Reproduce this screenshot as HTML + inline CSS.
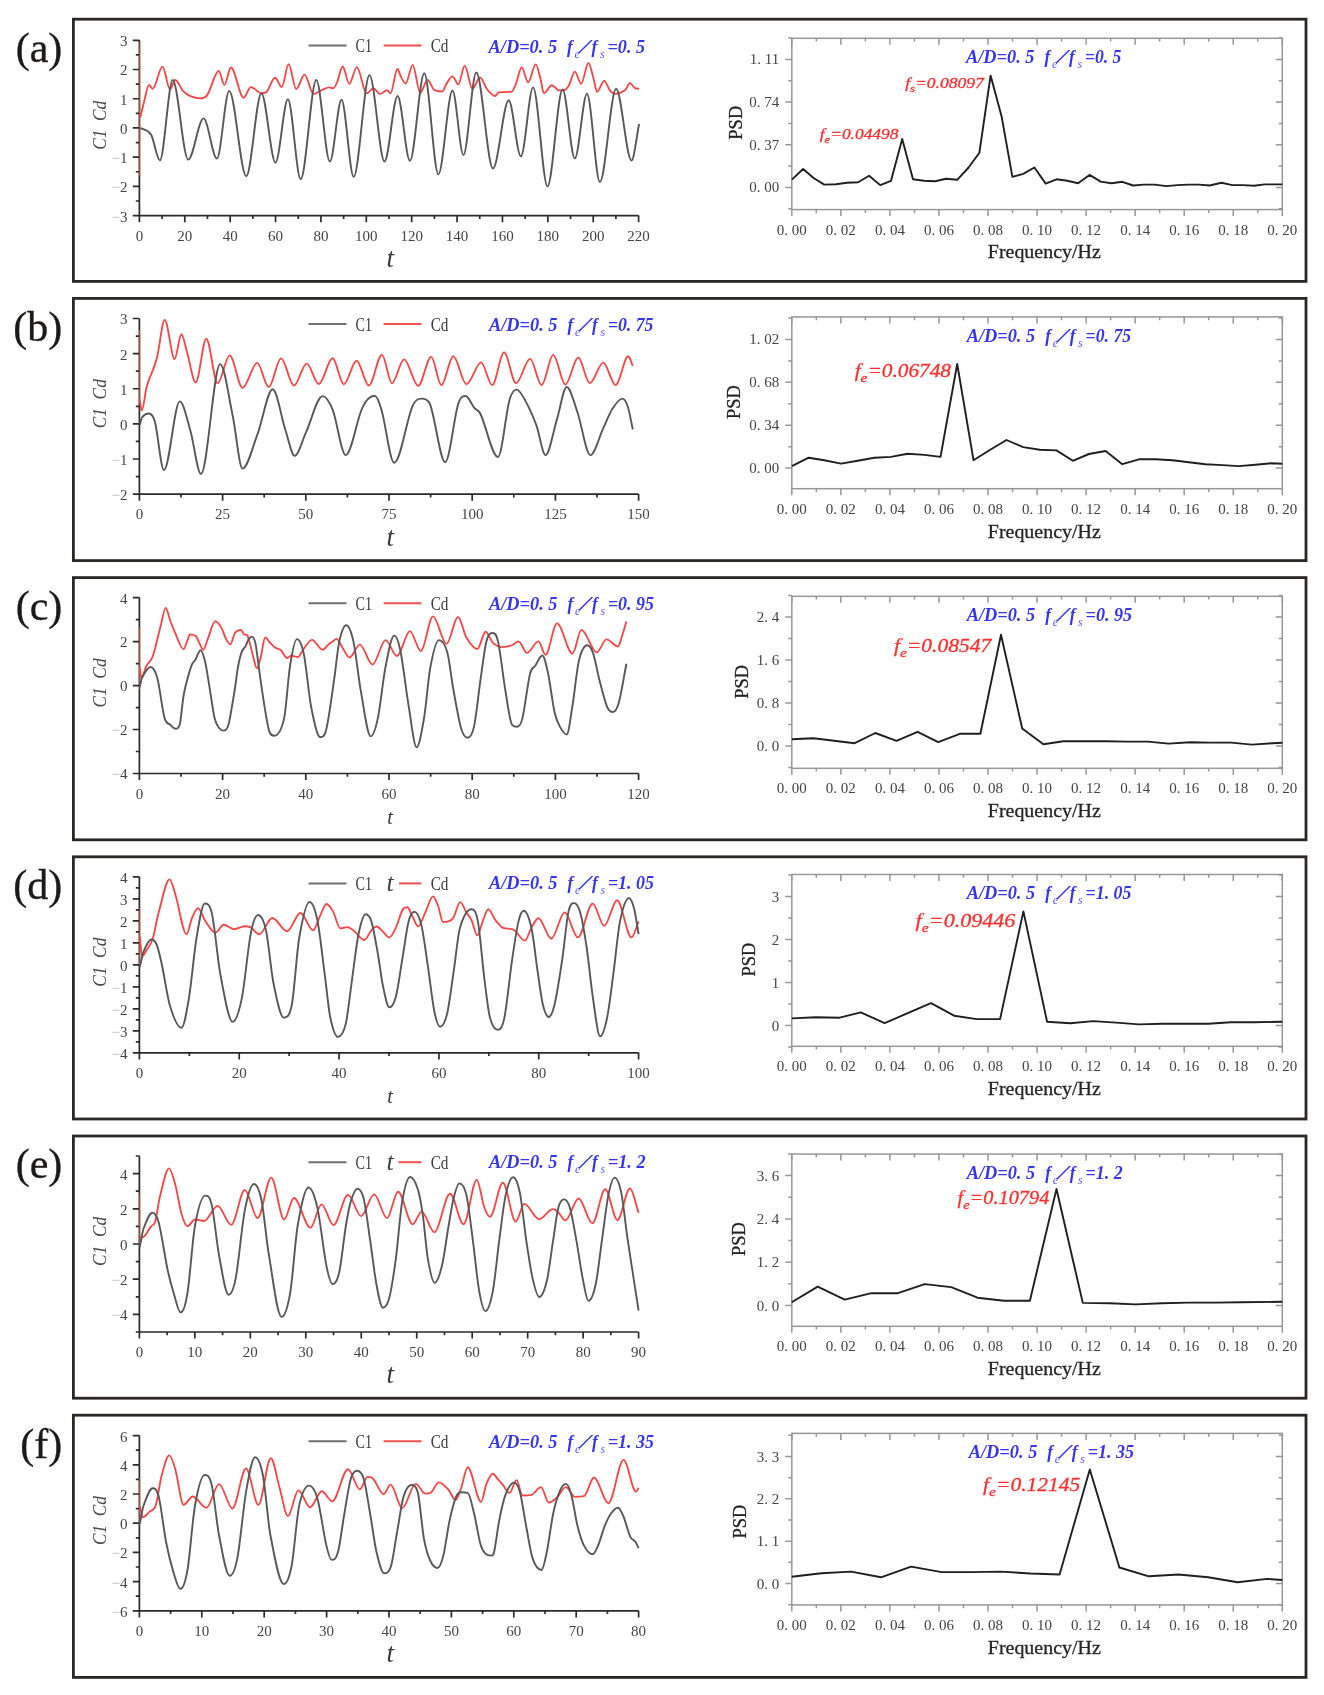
<!DOCTYPE html>
<html><head><meta charset="utf-8"><title>Cl Cd PSD</title><style>
html,body{margin:0;padding:0;background:#fff;width:1324px;height:1695px;overflow:hidden}
svg{display:block;filter:blur(0.45px)}
</style></head><body>
<svg width="1324" height="1695" viewBox="0 0 1324 1695">
<rect x="73.4" y="19.2" width="1232.6" height="262.2" fill="none" stroke="#2b2724" stroke-width="2.8"/>
<text x="62.3" y="61.5" font-size="42" font-family='"Liberation Serif", serif' fill="#1c1a18" text-anchor="end" stroke="#1c1a18" stroke-width="0.35">(a)</text>
<path d="M139.4,40.3 V215.6 H638.6" fill="none" stroke="#2b2b2b" stroke-width="1.7"/>
<path d="M132.8,215.6 H139.4 M135.8,200.99 H139.4 M132.8,186.38 H139.4 M135.8,171.77 H139.4 M132.8,157.17 H139.4 M135.8,142.56 H139.4 M132.8,127.95 H139.4 M135.8,113.34 H139.4 M132.8,98.73 H139.4 M135.8,84.12 H139.4 M132.8,69.52 H139.4 M135.8,54.91 H139.4 M132.8,40.3 H139.4 M139.4,215.6 V222.2 M162.09,215.6 V218.9 M184.78,215.6 V222.2 M207.47,215.6 V218.9 M230.16,215.6 V222.2 M252.85,215.6 V218.9 M275.55,215.6 V222.2 M298.24,215.6 V218.9 M320.93,215.6 V222.2 M343.62,215.6 V218.9 M366.31,215.6 V222.2 M389,215.6 V218.9 M411.69,215.6 V222.2 M434.38,215.6 V218.9 M457.07,215.6 V222.2 M479.76,215.6 V218.9 M502.45,215.6 V222.2 M525.15,215.6 V218.9 M547.84,215.6 V222.2 M570.53,215.6 V218.9 M593.22,215.6 V222.2 M615.91,215.6 V218.9 M638.6,215.6 V222.2" fill="none" stroke="#2b2b2b" stroke-width="1.7"/>
<text x="127.6" y="221.5" text-anchor="end" font-size="15" font-family='"Liberation Serif", serif' fill="#444444"><tspan fill="#b5b5b5">&#8722;</tspan>3</text>
<text x="127.6" y="192.28" text-anchor="end" font-size="15" font-family='"Liberation Serif", serif' fill="#444444"><tspan fill="#b5b5b5">&#8722;</tspan>2</text>
<text x="127.6" y="163.07" text-anchor="end" font-size="15" font-family='"Liberation Serif", serif' fill="#444444"><tspan fill="#b5b5b5">&#8722;</tspan>1</text>
<text x="127.6" y="133.85" font-size="15" font-family='"Liberation Serif", serif' fill="#444444" text-anchor="end">0</text>
<text x="127.6" y="104.63" font-size="15" font-family='"Liberation Serif", serif' fill="#444444" text-anchor="end">1</text>
<text x="127.6" y="75.42" font-size="15" font-family='"Liberation Serif", serif' fill="#444444" text-anchor="end">2</text>
<text x="127.6" y="46.2" font-size="15" font-family='"Liberation Serif", serif' fill="#444444" text-anchor="end">3</text>
<text x="139.4" y="240.7" font-size="15" font-family='"Liberation Serif", serif' fill="#444444" text-anchor="middle">0</text>
<text x="184.78" y="240.7" font-size="15" font-family='"Liberation Serif", serif' fill="#444444" text-anchor="middle">20</text>
<text x="230.16" y="240.7" font-size="15" font-family='"Liberation Serif", serif' fill="#444444" text-anchor="middle">40</text>
<text x="275.55" y="240.7" font-size="15" font-family='"Liberation Serif", serif' fill="#444444" text-anchor="middle">60</text>
<text x="320.93" y="240.7" font-size="15" font-family='"Liberation Serif", serif' fill="#444444" text-anchor="middle">80</text>
<text x="366.31" y="240.7" font-size="15" font-family='"Liberation Serif", serif' fill="#444444" text-anchor="middle">100</text>
<text x="411.69" y="240.7" font-size="15" font-family='"Liberation Serif", serif' fill="#444444" text-anchor="middle">120</text>
<text x="457.07" y="240.7" font-size="15" font-family='"Liberation Serif", serif' fill="#444444" text-anchor="middle">140</text>
<text x="502.45" y="240.7" font-size="15" font-family='"Liberation Serif", serif' fill="#444444" text-anchor="middle">160</text>
<text x="547.84" y="240.7" font-size="15" font-family='"Liberation Serif", serif' fill="#444444" text-anchor="middle">180</text>
<text x="593.22" y="240.7" font-size="15" font-family='"Liberation Serif", serif' fill="#444444" text-anchor="middle">200</text>
<text x="638.6" y="240.7" font-size="15" font-family='"Liberation Serif", serif' fill="#444444" text-anchor="middle">220</text>
<text transform="translate(106,149.85) rotate(-90)" x="0" y="0" font-size="19" font-style="italic" font-family='"Liberation Serif", serif' fill="#4a4a4a" textLength="49" lengthAdjust="spacingAndGlyphs">C1&#160;&#160;Cd</text>
<text x="386.5" y="267" font-size="27" font-family='"Liberation Serif", serif' fill="#3a3a3a" font-style="italic">t</text>
<path d="M139.7,42 V176" stroke="#c06040" stroke-width="1.2" opacity="0.8"/>
<path d="M140.3,117.3 C141.7,111.53 143.1,105.29 144.5,100 C145.97,94.46 147.43,84.8 148.9,84.8 C150.17,84.8 151.43,88.6 152.7,88.6 C155.97,88.6 159.23,66.7 162.5,66.7 C165,66.7 167.5,89.4 170,89.4 C171.77,89.4 173.53,80 175.3,80 C177.83,80 180.37,88.18 182.9,90.9 C185.4,93.58 187.9,95.12 190.4,96.2 C193.67,97.62 196.93,98.4 200.2,98.4 C202.47,98.4 204.73,98.4 207,95.4 C210.93,90.19 214.87,71 218.8,71 C220.67,71 222.53,84.8 224.4,84.8 C226.57,84.8 228.73,67.5 230.9,67.5 C235.13,67.5 239.37,97.7 243.6,97.7 C246,97.7 248.4,87.1 250.8,87.1 C254.33,87.1 257.87,93.2 261.4,93.2 C262.93,93.2 264.47,93.2 266,92.4 C269,90.83 272,77.7 275,77.7 C277.27,77.7 279.53,87.1 281.8,87.1 C284.07,87.1 286.33,64.2 288.6,64.2 C291.13,64.2 293.67,89.1 296.2,89.1 C298.97,89.1 301.73,74.6 304.5,74.6 C307.5,74.6 310.5,93.9 313.5,93.9 C316.6,93.9 319.7,90.88 322.8,89.6 C324.97,88.71 327.13,87.4 329.3,87.4 C330.57,87.4 331.83,88.3 333.1,88.3 C334.4,88.3 335.7,85.45 337,82.5 C338.9,78.19 340.8,66.5 342.7,66.5 C344.87,66.5 347.03,83.8 349.2,83.8 C351.77,83.8 354.33,67.1 356.9,67.1 C360.1,67.1 363.3,93.4 366.5,93.4 C368.87,93.4 371.23,88.3 373.6,88.3 C375.73,88.3 377.87,94.1 380,94.1 C382.33,94.1 384.67,90.2 387,90.2 C388.2,90.2 389.4,93.4 390.6,93.4 C392.83,93.4 395.07,69 397.3,69 C398.6,69 399.9,75.16 401.2,77.4 C402.7,79.99 404.2,83.5 405.7,83.5 C408.03,83.5 410.37,64.8 412.7,64.8 C415.2,64.8 417.7,92.8 420.2,92.8 C422.63,92.8 425.07,79.9 427.5,79.9 C429.83,79.9 432.17,89.03 434.5,90.2 C437.1,91.5 439.7,91.5 442.3,91.5 C443.57,91.5 444.83,86.29 446.1,84.4 C448.23,81.22 450.37,76.3 452.5,76.3 C454.43,76.3 456.37,84.4 458.3,84.4 C460.43,84.4 462.57,65.6 464.7,65.6 C467.27,65.6 469.83,88.9 472.4,88.9 C474.93,88.9 477.47,77.3 480,77.3 C482.4,77.3 484.8,86.53 487.2,89.5 C489.83,92.76 492.47,96 495.1,96 C496.3,96 497.5,92.49 498.7,92.4 C503,92.08 507.3,92.32 511.6,91.7 C513.03,91.49 514.47,87.26 515.9,83.8 C517.83,79.13 519.77,67.3 521.7,67.3 C523.83,67.3 525.97,82.4 528.1,82.4 C530.63,82.4 533.17,64.4 535.7,64.4 C537.23,64.4 538.77,72.63 540.3,78 C541.5,82.2 542.7,93.1 543.9,93.1 C546.53,93.1 549.17,85.2 551.8,85.2 C554.2,85.2 556.6,90.3 559,90.3 C560.43,90.3 561.87,90.3 563.3,90.3 C565.2,90.3 567.1,88.29 569,85.2 C570.93,82.06 572.87,71.6 574.8,71.6 C576.93,71.6 579.07,83.8 581.2,83.8 C583.6,83.8 586,63 588.4,63 C590.07,63 591.73,72.44 593.4,78 C594.6,82 595.8,91.7 597,91.7 C599.4,91.7 601.8,80.9 604.2,80.9 C606.1,80.9 608,88.01 609.9,90.3 C611.57,92.31 613.23,93.8 614.9,93.8 C618.27,93.8 621.63,92.69 625,90.3 C626.67,89.12 628.33,83.1 630,83.1 C631.67,83.1 633.33,87.28 635,88.1 C636.37,88.78 637.73,88.62 639.1,88.8" fill="none" stroke="#f44848" stroke-width="1.85" stroke-linejoin="round"/>
<path d="M140.3,127.9 C143.9,130.17 147.5,128.73 151.1,134.7 C154.03,139.56 156.97,160.4 159.9,160.4 C164.17,160.4 168.43,80 172.7,80 C177.87,80 183.03,159.6 188.2,159.6 C193.33,159.6 198.47,118.4 203.6,118.4 C208.03,118.4 212.47,158.6 216.9,158.6 C221,158.6 225.1,90.9 229.2,90.9 C234.9,90.9 240.6,176.2 246.3,176.2 C251.33,176.2 256.37,93.2 261.4,93.2 C266.1,93.2 270.8,162.6 275.5,162.6 C279.63,162.6 283.77,99.2 287.9,99.2 C292.17,99.2 296.43,179.3 300.7,179.3 C305.9,179.3 311.1,80 316.3,80 C320.83,80 325.37,161.5 329.9,161.5 C333.77,161.5 337.63,99.8 341.5,99.8 C345.57,99.8 349.63,176.9 353.7,176.9 C358.97,176.9 364.23,75.1 369.5,75.1 C374.5,75.1 379.5,161.5 384.5,161.5 C388.87,161.5 393.23,96 397.6,96 C401.7,96 405.8,160.8 409.9,160.8 C414.7,160.8 419.5,73.3 424.3,73.3 C429,73.3 433.7,174.3 438.4,174.3 C443.1,174.3 447.8,90.5 452.5,90.5 C456.13,90.5 459.77,155 463.4,155 C467.7,155 472,72.5 476.3,72.5 C481.87,72.5 487.43,168.5 493,168.5 C498.23,168.5 503.47,100.3 508.7,100.3 C512.77,100.3 516.83,156.3 520.9,156.3 C524.97,156.3 529.03,87.4 533.1,87.4 C537.9,87.4 542.7,186.4 547.5,186.4 C552.53,186.4 557.57,89.5 562.6,89.5 C566.67,89.5 570.73,158.4 574.8,158.4 C578.87,158.4 582.93,93.8 587,93.8 C591.3,93.8 595.6,182.1 599.9,182.1 C605.3,182.1 610.7,88.8 616.1,88.8 C621.23,88.8 626.37,160.6 631.5,160.6 C634.03,160.6 636.57,136.2 639.1,124" fill="none" stroke="#585858" stroke-width="1.9" stroke-linejoin="round"/>
<path d="M308.5,45.5 H346.5" stroke="#707070" stroke-width="2"/>
<text x="355.5" y="52" font-size="19.5" font-family='"Liberation Serif", serif' fill="#3a3a3a" textLength="16.5" lengthAdjust="spacingAndGlyphs">C1</text>
<path d="M383.6,45.5 H421.5" stroke="#f25050" stroke-width="2"/>
<text x="430.7" y="52" font-size="19.5" font-family='"Liberation Serif", serif' fill="#3a3a3a" textLength="17.8" lengthAdjust="spacingAndGlyphs">Cd</text>
<text transform="translate(488.6,52.7) scale(1,1.12)" x="0" y="0" font-size="16.8" font-style="italic" font-weight="bold" font-family='"Liberation Serif", serif' fill="#3535f0" textLength="68.5" lengthAdjust="spacingAndGlyphs">A/D=0. 5</text>
<text transform="translate(567.1,52.7) scale(1,1.12)" x="0" y="0" font-size="17" font-style="italic" font-weight="bold" font-family='"Liberation Serif", serif' fill="#3535f0">f</text>
<text transform="translate(574.6,57.7) scale(1,1.12)" x="0" y="0" font-size="12" font-style="italic" font-weight="normal" font-family='"Liberation Serif", serif' fill="#5a5af5">e</text>
<text transform="translate(579.6,52.7) scale(1,1.12)" x="0" y="0" font-size="17" font-style="italic" font-weight="normal" font-family='"Liberation Serif", serif' fill="#3535f0" textLength="10.5" lengthAdjust="spacingAndGlyphs">/</text>
<text transform="translate(591.6,52.7) scale(1,1.12)" x="0" y="0" font-size="17" font-style="italic" font-weight="bold" font-family='"Liberation Serif", serif' fill="#3535f0">f</text>
<text transform="translate(600,57.7) scale(1,1.12)" x="0" y="0" font-size="12" font-style="italic" font-weight="normal" font-family='"Liberation Serif", serif' fill="#5a5af5">s</text>
<text transform="translate(607.5,52.7) scale(1,1.12)" x="0" y="0" font-size="16.5" font-style="italic" font-weight="bold" font-family='"Liberation Serif", serif' fill="#3535f0" textLength="37.5" lengthAdjust="spacingAndGlyphs">=0. 5</text>
<rect x="791.8" y="38.3" width="490.5" height="171.3" fill="none" stroke="#979797" stroke-width="1.5"/>
<path d="M785.3,187.4 H791.8 M1275.8,187.4 H1282.3 M788.2,166.06 H791.8 M1278.7,166.06 H1282.3 M785.3,144.73 H791.8 M1275.8,144.73 H1282.3 M788.2,123.4 H791.8 M1278.7,123.4 H1282.3 M785.3,102.06 H791.8 M1275.8,102.06 H1282.3 M788.2,80.72 H791.8 M1278.7,80.72 H1282.3 M785.3,59.39 H791.8 M1275.8,59.39 H1282.3 M788.2,38.06 H791.8 M1278.7,38.06 H1282.3 M788.2,208.74 H791.8 M1278.7,208.74 H1282.3 M791.8,209.6 V216.1 M791.8,38.3 V44.8 M816.32,209.6 V212.9 M816.32,38.3 V41.6 M840.85,209.6 V216.1 M840.85,38.3 V44.8 M865.38,209.6 V212.9 M865.38,38.3 V41.6 M889.9,209.6 V216.1 M889.9,38.3 V44.8 M914.42,209.6 V212.9 M914.42,38.3 V41.6 M938.95,209.6 V216.1 M938.95,38.3 V44.8 M963.47,209.6 V212.9 M963.47,38.3 V41.6 M988,209.6 V216.1 M988,38.3 V44.8 M1012.52,209.6 V212.9 M1012.52,38.3 V41.6 M1037.05,209.6 V216.1 M1037.05,38.3 V44.8 M1061.57,209.6 V212.9 M1061.57,38.3 V41.6 M1086.1,209.6 V216.1 M1086.1,38.3 V44.8 M1110.62,209.6 V212.9 M1110.62,38.3 V41.6 M1135.15,209.6 V216.1 M1135.15,38.3 V44.8 M1159.67,209.6 V212.9 M1159.67,38.3 V41.6 M1184.2,209.6 V216.1 M1184.2,38.3 V44.8 M1208.72,209.6 V212.9 M1208.72,38.3 V41.6 M1233.25,209.6 V216.1 M1233.25,38.3 V44.8 M1257.78,209.6 V212.9 M1257.78,38.3 V41.6 M1282.3,209.6 V216.1 M1282.3,38.3 V44.8" fill="none" stroke="#979797" stroke-width="1.5"/>
<text x="779.2" y="192.4" font-size="15" font-family='"Liberation Serif", serif' fill="#444444" text-anchor="end">0. 00</text>
<text x="779.2" y="149.73" font-size="15" font-family='"Liberation Serif", serif' fill="#444444" text-anchor="end">0. 37</text>
<text x="779.2" y="107.06" font-size="15" font-family='"Liberation Serif", serif' fill="#444444" text-anchor="end">0. 74</text>
<text x="779.2" y="64.39" font-size="15" font-family='"Liberation Serif", serif' fill="#444444" text-anchor="end">1. 11</text>
<text x="791.8" y="234.6" font-size="15" font-family='"Liberation Serif", serif' fill="#444444" text-anchor="middle">0. 00</text>
<text x="840.85" y="234.6" font-size="15" font-family='"Liberation Serif", serif' fill="#444444" text-anchor="middle">0. 02</text>
<text x="889.9" y="234.6" font-size="15" font-family='"Liberation Serif", serif' fill="#444444" text-anchor="middle">0. 04</text>
<text x="938.95" y="234.6" font-size="15" font-family='"Liberation Serif", serif' fill="#444444" text-anchor="middle">0. 06</text>
<text x="988" y="234.6" font-size="15" font-family='"Liberation Serif", serif' fill="#444444" text-anchor="middle">0. 08</text>
<text x="1037.05" y="234.6" font-size="15" font-family='"Liberation Serif", serif' fill="#444444" text-anchor="middle">0. 10</text>
<text x="1086.1" y="234.6" font-size="15" font-family='"Liberation Serif", serif' fill="#444444" text-anchor="middle">0. 12</text>
<text x="1135.15" y="234.6" font-size="15" font-family='"Liberation Serif", serif' fill="#444444" text-anchor="middle">0. 14</text>
<text x="1184.2" y="234.6" font-size="15" font-family='"Liberation Serif", serif' fill="#444444" text-anchor="middle">0. 16</text>
<text x="1233.25" y="234.6" font-size="15" font-family='"Liberation Serif", serif' fill="#444444" text-anchor="middle">0. 18</text>
<text x="1282.3" y="234.6" font-size="15" font-family='"Liberation Serif", serif' fill="#444444" text-anchor="middle">0. 20</text>
<text x="987.8" y="258.4" font-size="19" font-family='"Liberation Serif", serif' fill="#262626" textLength="113" lengthAdjust="spacingAndGlyphs" stroke="#262626" stroke-width="0.3">Frequency/Hz</text>
<text transform="translate(741.7,122.7) rotate(-90)" x="0" y="0" text-anchor="middle" font-size="18.5" font-family='"Liberation Serif", serif' fill="#222" stroke="#222" stroke-width="0.3">PSD</text>
<path d="M791.9,179.6 L803.1,169 L813.9,178.3 L824.3,184.6 L836.1,184.2 L846.9,182.8 L858.1,182.2 L869.1,175.7 L880.2,185.1 L891,180.8 L902.2,139 L913,179.3 L924,180.8 L935.2,181.2 L946,178.7 L957.2,179.8 L968.6,167.5 L979.4,152.7 L990.6,75.6 L1001.6,116.4 L1012.4,176.9 L1023.2,173.8 L1034.4,167.5 L1045.7,183.6 L1056.5,179.3 L1067.3,180.8 L1078.1,183.2 L1089.5,174.9 L1100.7,181.6 L1111.5,183.2 L1122.3,181.8 L1133.1,185.5 L1143.9,184.6 L1154.7,184.6 L1166.5,186.1 L1177.3,185.1 L1188.1,184.6 L1198.9,184.6 L1209.7,185.5 L1221.5,182.8 L1232.3,185.1 L1243.1,185.1 L1253.9,185.7 L1264.7,184.4 L1275.5,184.4 L1282.3,184.4" fill="none" stroke="#1f1f1f" stroke-width="1.9" stroke-linejoin="round"/>
<text transform="translate(966,63.2) scale(1,1.12)" x="0" y="0" font-size="16.8" font-style="italic" font-weight="bold" font-family='"Liberation Serif", serif' fill="#3535f0" textLength="68.5" lengthAdjust="spacingAndGlyphs">A/D=0. 5</text>
<text transform="translate(1044.5,63.2) scale(1,1.12)" x="0" y="0" font-size="17" font-style="italic" font-weight="bold" font-family='"Liberation Serif", serif' fill="#3535f0">f</text>
<text transform="translate(1052,68.2) scale(1,1.12)" x="0" y="0" font-size="12" font-style="italic" font-weight="normal" font-family='"Liberation Serif", serif' fill="#5a5af5">e</text>
<text transform="translate(1057,63.2) scale(1,1.12)" x="0" y="0" font-size="17" font-style="italic" font-weight="normal" font-family='"Liberation Serif", serif' fill="#3535f0" textLength="10.5" lengthAdjust="spacingAndGlyphs">/</text>
<text transform="translate(1069,63.2) scale(1,1.12)" x="0" y="0" font-size="17" font-style="italic" font-weight="bold" font-family='"Liberation Serif", serif' fill="#3535f0">f</text>
<text transform="translate(1077.4,68.2) scale(1,1.12)" x="0" y="0" font-size="12" font-style="italic" font-weight="normal" font-family='"Liberation Serif", serif' fill="#5a5af5">s</text>
<text transform="translate(1084.9,63.2) scale(1,1.12)" x="0" y="0" font-size="16.5" font-style="italic" font-weight="bold" font-family='"Liberation Serif", serif' fill="#3535f0" textLength="36.4" lengthAdjust="spacingAndGlyphs">=0. 5</text>
<text stroke="#ff3030" stroke-width="0.3" x="905.2" y="88" font-size="14.5" font-style="italic" font-weight="normal" font-family='"Liberation Serif", serif' fill="#ff3030" textLength="78.5" lengthAdjust="spacingAndGlyphs"><tspan>f</tspan><tspan font-size="10.44" dy="4.06">s</tspan><tspan dy="-4.06">=0.08097</tspan></text>
<text stroke="#ff3030" stroke-width="0.3" x="819.8" y="138.5" font-size="14.5" font-style="italic" font-weight="normal" font-family='"Liberation Serif", serif' fill="#ff3030" textLength="78.6" lengthAdjust="spacingAndGlyphs"><tspan>f</tspan><tspan font-size="10.44" dy="4.06">e</tspan><tspan dy="-4.06">=0.04498</tspan></text>
<rect x="73.4" y="298.4" width="1232.6" height="262.2" fill="none" stroke="#2b2724" stroke-width="2.8"/>
<text x="62.3" y="340.7" font-size="42" font-family='"Liberation Serif", serif' fill="#1c1a18" text-anchor="end" stroke="#1c1a18" stroke-width="0.35">(b)</text>
<path d="M139.4,318.5 V494.1 H638.6" fill="none" stroke="#2b2b2b" stroke-width="1.7"/>
<path d="M132.8,494.1 H139.4 M135.8,476.54 H139.4 M132.8,458.98 H139.4 M135.8,441.42 H139.4 M132.8,423.86 H139.4 M135.8,406.3 H139.4 M132.8,388.74 H139.4 M135.8,371.18 H139.4 M132.8,353.62 H139.4 M135.8,336.06 H139.4 M132.8,318.5 H139.4 M139.4,494.1 V500.7 M181,494.1 V497.4 M222.6,494.1 V500.7 M264.2,494.1 V497.4 M305.8,494.1 V500.7 M347.4,494.1 V497.4 M389,494.1 V500.7 M430.6,494.1 V497.4 M472.2,494.1 V500.7 M513.8,494.1 V497.4 M555.4,494.1 V500.7 M597,494.1 V497.4 M638.6,494.1 V500.7" fill="none" stroke="#2b2b2b" stroke-width="1.7"/>
<text x="127.6" y="500" text-anchor="end" font-size="15" font-family='"Liberation Serif", serif' fill="#444444"><tspan fill="#b5b5b5">&#8722;</tspan>2</text>
<text x="127.6" y="464.88" text-anchor="end" font-size="15" font-family='"Liberation Serif", serif' fill="#444444"><tspan fill="#b5b5b5">&#8722;</tspan>1</text>
<text x="127.6" y="429.76" font-size="15" font-family='"Liberation Serif", serif' fill="#444444" text-anchor="end">0</text>
<text x="127.6" y="394.64" font-size="15" font-family='"Liberation Serif", serif' fill="#444444" text-anchor="end">1</text>
<text x="127.6" y="359.52" font-size="15" font-family='"Liberation Serif", serif' fill="#444444" text-anchor="end">2</text>
<text x="127.6" y="324.4" font-size="15" font-family='"Liberation Serif", serif' fill="#444444" text-anchor="end">3</text>
<text x="139.4" y="519.2" font-size="15" font-family='"Liberation Serif", serif' fill="#444444" text-anchor="middle">0</text>
<text x="222.6" y="519.2" font-size="15" font-family='"Liberation Serif", serif' fill="#444444" text-anchor="middle">25</text>
<text x="305.8" y="519.2" font-size="15" font-family='"Liberation Serif", serif' fill="#444444" text-anchor="middle">50</text>
<text x="389" y="519.2" font-size="15" font-family='"Liberation Serif", serif' fill="#444444" text-anchor="middle">75</text>
<text x="472.2" y="519.2" font-size="15" font-family='"Liberation Serif", serif' fill="#444444" text-anchor="middle">100</text>
<text x="555.4" y="519.2" font-size="15" font-family='"Liberation Serif", serif' fill="#444444" text-anchor="middle">125</text>
<text x="638.6" y="519.2" font-size="15" font-family='"Liberation Serif", serif' fill="#444444" text-anchor="middle">150</text>
<text transform="translate(106,428.2) rotate(-90)" x="0" y="0" font-size="19" font-style="italic" font-family='"Liberation Serif", serif' fill="#4a4a4a" textLength="49" lengthAdjust="spacingAndGlyphs">C1&#160;&#160;Cd</text>
<text x="386.5" y="545.5" font-size="27" font-family='"Liberation Serif", serif' fill="#3a3a3a" font-style="italic">t</text>
<path d="M139.7,330 V402" stroke="#c06040" stroke-width="1.2" opacity="0.8"/>
<path d="M139.8,400.6 C140.47,403.9 141.13,410.5 141.8,410.5 C143.4,410.5 145,392.89 146.6,387 C148.63,379.52 150.67,376.19 152.7,370.4 C154.2,366.13 155.7,363.12 157.2,356.8 C159.7,346.26 162.2,319.8 164.7,319.8 C168,319.8 171.3,359.1 174.6,359.1 C176.87,359.1 179.13,334.2 181.4,334.2 C183.4,334.2 185.4,347.04 187.4,353.8 C190.17,363.14 192.93,382.5 195.7,382.5 C199.23,382.5 202.77,338.7 206.3,338.7 C210.07,338.7 213.83,383.3 217.6,383.3 C221.63,383.3 225.67,355.3 229.7,355.3 C233.97,355.3 238.23,387.8 242.5,387.8 C247.4,387.8 252.3,362.9 257.2,362.9 C261.03,362.9 264.87,387 268.7,387 C272.83,387 276.97,358.3 281.1,358.3 C285.37,358.3 289.63,385.5 293.9,385.5 C298.17,385.5 302.43,363.6 306.7,363.6 C310.73,363.6 314.77,384 318.8,384 C323.4,384 328,358.2 332.6,358.2 C336.33,358.2 340.07,384.2 343.8,384.2 C348.07,384.2 352.33,360.7 356.6,360.7 C360.67,360.7 364.73,385.5 368.8,385.5 C373.2,385.5 377.6,354.9 382,354.9 C385.3,354.9 388.6,383.2 391.9,383.2 C395.97,383.2 400.03,359.4 404.1,359.4 C408.8,359.4 413.5,385.8 418.2,385.8 C422.53,385.8 426.87,356.9 431.2,356.9 C434.57,356.9 437.93,385.1 441.3,385.1 C445.3,385.1 449.3,356.2 453.3,356.2 C457.67,356.2 462.03,384.2 466.4,384.2 C471.3,384.2 476.2,362.4 481.1,362.4 C484.8,362.4 488.5,385.1 492.2,385.1 C496.17,385.1 500.13,352.4 504.1,352.4 C508.07,352.4 512.03,383.2 516,383.2 C520.7,383.2 525.4,358.8 530.1,358.8 C533.93,358.8 537.77,385.1 541.6,385.1 C545.47,385.1 549.33,354.9 553.2,354.9 C557.27,354.9 561.33,384.5 565.4,384.5 C569.67,384.5 573.93,357.5 578.2,357.5 C582.07,357.5 585.93,383.2 589.8,383.2 C594.3,383.2 598.8,362.6 603.3,362.6 C607.37,362.6 611.43,385.1 615.5,385.1 C619.77,385.1 624.03,356.2 628.3,356.2 C629.8,356.2 631.3,362.67 632.8,365.9" fill="none" stroke="#f44848" stroke-width="1.85" stroke-linejoin="round"/>
<path d="M139.8,424.8 C140.57,422.3 141.33,418.25 142.1,417.3 C144.37,414.49 146.63,413.5 148.9,413.5 C150.9,413.5 152.9,414.3 154.9,421.8 C157.93,433.17 160.97,470.1 164,470.1 C169.27,470.1 174.53,401.4 179.8,401.4 C183.33,401.4 186.87,418.72 190.4,430.8 C193.93,442.88 197.47,473.9 201,473.9 C207.4,473.9 213.8,364.1 220.2,364.1 C224.37,364.1 228.53,396.17 232.7,415.7 C235.97,431.01 239.23,468.6 242.5,468.6 C247.53,468.6 252.57,447.12 257.6,433.9 C262.63,420.68 267.67,389.3 272.7,389.3 C277,389.3 281.3,417.8 285.6,430.8 C288.63,439.97 291.67,455.8 294.7,455.8 C298.47,455.8 302.23,440.46 306,432.4 C311.53,420.56 317.07,396.1 322.6,396.1 C326,396.1 329.4,401.52 332.8,410.2 C337.1,421.18 341.4,455.1 345.7,455.1 C351.27,455.1 356.83,419.02 362.4,407.6 C366.47,399.26 370.53,395.8 374.6,395.8 C376.93,395.8 379.27,402.22 381.6,410.2 C385.8,424.56 390,462.8 394.2,462.8 C400.27,462.8 406.33,420.62 412.4,406.3 C415.4,399.22 418.4,398.6 421.4,398.6 C423.97,398.6 426.53,398.6 429.1,402.4 C434.47,410.35 439.83,462.2 445.2,462.2 C449.7,462.2 454.2,414.74 458.7,402.4 C461.03,396 463.37,396 465.7,396 C468.5,396 471.3,404.19 474.1,407.6 C476.23,410.19 478.37,409.59 480.5,414 C486.33,426.06 492.17,457 498,457 C501.83,457 505.67,413.79 509.5,399.9 C511.87,391.32 514.23,389.6 516.6,389.6 C519.37,389.6 522.13,394.89 524.9,399.9 C528.77,406.89 532.63,415.24 536.5,425.6 C539.5,433.64 542.5,455.1 545.5,455.1 C549.33,455.1 553.17,431.41 557,419.1 C560.23,408.71 563.47,387 566.7,387 C570.33,387 573.97,402.26 577.6,412.7 C581.87,424.96 586.13,455.1 590.4,455.1 C594.7,455.1 599,437.17 603.3,428.1 C606.3,421.77 609.3,413.51 612.3,408.9 C615.7,403.68 619.1,398.6 622.5,398.6 C624.23,398.6 625.97,401.12 627.7,406.3 C629.4,411.38 631.1,421.7 632.8,429.4" fill="none" stroke="#585858" stroke-width="1.9" stroke-linejoin="round"/>
<path d="M308.5,324.1 H346.5" stroke="#707070" stroke-width="2"/>
<text x="355.5" y="330.6" font-size="19.5" font-family='"Liberation Serif", serif' fill="#3a3a3a" textLength="16.5" lengthAdjust="spacingAndGlyphs">C1</text>
<path d="M383.6,324.1 H421.5" stroke="#f25050" stroke-width="2"/>
<text x="430.7" y="330.6" font-size="19.5" font-family='"Liberation Serif", serif' fill="#3a3a3a" textLength="17.8" lengthAdjust="spacingAndGlyphs">Cd</text>
<text transform="translate(489,330.9) scale(1,1.12)" x="0" y="0" font-size="16.8" font-style="italic" font-weight="bold" font-family='"Liberation Serif", serif' fill="#3535f0" textLength="68.5" lengthAdjust="spacingAndGlyphs">A/D=0. 5</text>
<text transform="translate(567.5,330.9) scale(1,1.12)" x="0" y="0" font-size="17" font-style="italic" font-weight="bold" font-family='"Liberation Serif", serif' fill="#3535f0">f</text>
<text transform="translate(575,335.9) scale(1,1.12)" x="0" y="0" font-size="12" font-style="italic" font-weight="normal" font-family='"Liberation Serif", serif' fill="#5a5af5">e</text>
<text transform="translate(580,330.9) scale(1,1.12)" x="0" y="0" font-size="17" font-style="italic" font-weight="normal" font-family='"Liberation Serif", serif' fill="#3535f0" textLength="10.5" lengthAdjust="spacingAndGlyphs">/</text>
<text transform="translate(592,330.9) scale(1,1.12)" x="0" y="0" font-size="17" font-style="italic" font-weight="bold" font-family='"Liberation Serif", serif' fill="#3535f0">f</text>
<text transform="translate(600.4,335.9) scale(1,1.12)" x="0" y="0" font-size="12" font-style="italic" font-weight="normal" font-family='"Liberation Serif", serif' fill="#5a5af5">s</text>
<text transform="translate(607.9,330.9) scale(1,1.12)" x="0" y="0" font-size="16.5" font-style="italic" font-weight="bold" font-family='"Liberation Serif", serif' fill="#3535f0" textLength="45.5" lengthAdjust="spacingAndGlyphs">=0. 75</text>
<rect x="791.8" y="316.9" width="490.5" height="171.8" fill="none" stroke="#979797" stroke-width="1.5"/>
<path d="M785.3,468.1 H791.8 M1275.8,468.1 H1282.3 M788.2,446.67 H791.8 M1278.7,446.67 H1282.3 M785.3,425.23 H791.8 M1275.8,425.23 H1282.3 M788.2,403.8 H791.8 M1278.7,403.8 H1282.3 M785.3,382.36 H791.8 M1275.8,382.36 H1282.3 M788.2,360.93 H791.8 M1278.7,360.93 H1282.3 M785.3,339.49 H791.8 M1275.8,339.49 H1282.3 M788.2,318.06 H791.8 M1278.7,318.06 H1282.3 M791.8,488.7 V495.2 M791.8,316.9 V323.4 M816.32,488.7 V492 M816.32,316.9 V320.2 M840.85,488.7 V495.2 M840.85,316.9 V323.4 M865.38,488.7 V492 M865.38,316.9 V320.2 M889.9,488.7 V495.2 M889.9,316.9 V323.4 M914.42,488.7 V492 M914.42,316.9 V320.2 M938.95,488.7 V495.2 M938.95,316.9 V323.4 M963.47,488.7 V492 M963.47,316.9 V320.2 M988,488.7 V495.2 M988,316.9 V323.4 M1012.52,488.7 V492 M1012.52,316.9 V320.2 M1037.05,488.7 V495.2 M1037.05,316.9 V323.4 M1061.57,488.7 V492 M1061.57,316.9 V320.2 M1086.1,488.7 V495.2 M1086.1,316.9 V323.4 M1110.62,488.7 V492 M1110.62,316.9 V320.2 M1135.15,488.7 V495.2 M1135.15,316.9 V323.4 M1159.67,488.7 V492 M1159.67,316.9 V320.2 M1184.2,488.7 V495.2 M1184.2,316.9 V323.4 M1208.72,488.7 V492 M1208.72,316.9 V320.2 M1233.25,488.7 V495.2 M1233.25,316.9 V323.4 M1257.78,488.7 V492 M1257.78,316.9 V320.2 M1282.3,488.7 V495.2 M1282.3,316.9 V323.4" fill="none" stroke="#979797" stroke-width="1.5"/>
<text x="779.2" y="473.1" font-size="15" font-family='"Liberation Serif", serif' fill="#444444" text-anchor="end">0. 00</text>
<text x="779.2" y="430.23" font-size="15" font-family='"Liberation Serif", serif' fill="#444444" text-anchor="end">0. 34</text>
<text x="779.2" y="387.36" font-size="15" font-family='"Liberation Serif", serif' fill="#444444" text-anchor="end">0. 68</text>
<text x="779.2" y="344.49" font-size="15" font-family='"Liberation Serif", serif' fill="#444444" text-anchor="end">1. 02</text>
<text x="791.8" y="513.7" font-size="15" font-family='"Liberation Serif", serif' fill="#444444" text-anchor="middle">0. 00</text>
<text x="840.85" y="513.7" font-size="15" font-family='"Liberation Serif", serif' fill="#444444" text-anchor="middle">0. 02</text>
<text x="889.9" y="513.7" font-size="15" font-family='"Liberation Serif", serif' fill="#444444" text-anchor="middle">0. 04</text>
<text x="938.95" y="513.7" font-size="15" font-family='"Liberation Serif", serif' fill="#444444" text-anchor="middle">0. 06</text>
<text x="988" y="513.7" font-size="15" font-family='"Liberation Serif", serif' fill="#444444" text-anchor="middle">0. 08</text>
<text x="1037.05" y="513.7" font-size="15" font-family='"Liberation Serif", serif' fill="#444444" text-anchor="middle">0. 10</text>
<text x="1086.1" y="513.7" font-size="15" font-family='"Liberation Serif", serif' fill="#444444" text-anchor="middle">0. 12</text>
<text x="1135.15" y="513.7" font-size="15" font-family='"Liberation Serif", serif' fill="#444444" text-anchor="middle">0. 14</text>
<text x="1184.2" y="513.7" font-size="15" font-family='"Liberation Serif", serif' fill="#444444" text-anchor="middle">0. 16</text>
<text x="1233.25" y="513.7" font-size="15" font-family='"Liberation Serif", serif' fill="#444444" text-anchor="middle">0. 18</text>
<text x="1282.3" y="513.7" font-size="15" font-family='"Liberation Serif", serif' fill="#444444" text-anchor="middle">0. 20</text>
<text x="987.8" y="537.5" font-size="19" font-family='"Liberation Serif", serif' fill="#262626" textLength="113" lengthAdjust="spacingAndGlyphs" stroke="#262626" stroke-width="0.3">Frequency/Hz</text>
<text transform="translate(739.5,402.1) rotate(-90)" x="0" y="0" text-anchor="middle" font-size="18.5" font-family='"Liberation Serif", serif' fill="#222" stroke="#222" stroke-width="0.3">PSD</text>
<path d="M791.9,466.1 L808.6,457.7 L824.3,460.2 L841,463.6 L857.7,460.8 L874.4,457.7 L891,456.9 L907.7,453.8 L924.4,454.9 L940.5,456.9 L957.2,364 L973.5,460.2 L990.2,449.8 L1006.5,440 L1023.2,447.1 L1039.8,449.8 L1056.5,450.4 L1072.8,460.8 L1088.9,454 L1105.6,451 L1122.3,464.2 L1139,459.3 L1155.7,459.3 L1172.4,460.2 L1188.7,462.2 L1205.4,464.2 L1222.5,465.1 L1238.8,466.1 L1255.4,464.8 L1271.6,463.2 L1282.3,463.8" fill="none" stroke="#1f1f1f" stroke-width="1.9" stroke-linejoin="round"/>
<text transform="translate(966.7,341.8) scale(1,1.12)" x="0" y="0" font-size="16.8" font-style="italic" font-weight="bold" font-family='"Liberation Serif", serif' fill="#3535f0" textLength="68.5" lengthAdjust="spacingAndGlyphs">A/D=0. 5</text>
<text transform="translate(1045.2,341.8) scale(1,1.12)" x="0" y="0" font-size="17" font-style="italic" font-weight="bold" font-family='"Liberation Serif", serif' fill="#3535f0">f</text>
<text transform="translate(1052.7,346.8) scale(1,1.12)" x="0" y="0" font-size="12" font-style="italic" font-weight="normal" font-family='"Liberation Serif", serif' fill="#5a5af5">e</text>
<text transform="translate(1057.7,341.8) scale(1,1.12)" x="0" y="0" font-size="17" font-style="italic" font-weight="normal" font-family='"Liberation Serif", serif' fill="#3535f0" textLength="10.5" lengthAdjust="spacingAndGlyphs">/</text>
<text transform="translate(1069.7,341.8) scale(1,1.12)" x="0" y="0" font-size="17" font-style="italic" font-weight="bold" font-family='"Liberation Serif", serif' fill="#3535f0">f</text>
<text transform="translate(1078.1,346.8) scale(1,1.12)" x="0" y="0" font-size="12" font-style="italic" font-weight="normal" font-family='"Liberation Serif", serif' fill="#5a5af5">s</text>
<text transform="translate(1085.6,341.8) scale(1,1.12)" x="0" y="0" font-size="16.5" font-style="italic" font-weight="bold" font-family='"Liberation Serif", serif' fill="#3535f0" textLength="45.5" lengthAdjust="spacingAndGlyphs">=0. 75</text>
<text stroke="#ff3030" stroke-width="0.3" x="854.7" y="376.8" font-size="18" font-style="italic" font-weight="normal" font-family='"Liberation Serif", serif' fill="#ff3030" textLength="96.3" lengthAdjust="spacingAndGlyphs"><tspan>f</tspan><tspan font-size="12.96" dy="5.04">e</tspan><tspan dy="-5.04">=0.06748</tspan></text>
<rect x="73.4" y="577.6" width="1232.6" height="262.2" fill="none" stroke="#2b2724" stroke-width="2.8"/>
<text x="62.3" y="619.9" font-size="42" font-family='"Liberation Serif", serif' fill="#1c1a18" text-anchor="end" stroke="#1c1a18" stroke-width="0.35">(c)</text>
<path d="M139.4,597.6 V773.5 H638.6" fill="none" stroke="#2b2b2b" stroke-width="1.7"/>
<path d="M132.8,773.5 H139.4 M135.8,751.51 H139.4 M132.8,729.52 H139.4 M135.8,707.54 H139.4 M132.8,685.55 H139.4 M135.8,663.56 H139.4 M132.8,641.58 H139.4 M135.8,619.59 H139.4 M132.8,597.6 H139.4 M139.4,773.5 V780.1 M181,773.5 V776.8 M222.6,773.5 V780.1 M264.2,773.5 V776.8 M305.8,773.5 V780.1 M347.4,773.5 V776.8 M389,773.5 V780.1 M430.6,773.5 V776.8 M472.2,773.5 V780.1 M513.8,773.5 V776.8 M555.4,773.5 V780.1 M597,773.5 V776.8 M638.6,773.5 V780.1" fill="none" stroke="#2b2b2b" stroke-width="1.7"/>
<text x="127.6" y="779.4" text-anchor="end" font-size="15" font-family='"Liberation Serif", serif' fill="#444444"><tspan fill="#b5b5b5">&#8722;</tspan>4</text>
<text x="127.6" y="735.42" text-anchor="end" font-size="15" font-family='"Liberation Serif", serif' fill="#444444"><tspan fill="#b5b5b5">&#8722;</tspan>2</text>
<text x="127.6" y="691.45" font-size="15" font-family='"Liberation Serif", serif' fill="#444444" text-anchor="end">0</text>
<text x="127.6" y="647.48" font-size="15" font-family='"Liberation Serif", serif' fill="#444444" text-anchor="end">2</text>
<text x="127.6" y="603.5" font-size="15" font-family='"Liberation Serif", serif' fill="#444444" text-anchor="end">4</text>
<text x="139.4" y="798.6" font-size="15" font-family='"Liberation Serif", serif' fill="#444444" text-anchor="middle">0</text>
<text x="222.6" y="798.6" font-size="15" font-family='"Liberation Serif", serif' fill="#444444" text-anchor="middle">20</text>
<text x="305.8" y="798.6" font-size="15" font-family='"Liberation Serif", serif' fill="#444444" text-anchor="middle">40</text>
<text x="389" y="798.6" font-size="15" font-family='"Liberation Serif", serif' fill="#444444" text-anchor="middle">60</text>
<text x="472.2" y="798.6" font-size="15" font-family='"Liberation Serif", serif' fill="#444444" text-anchor="middle">80</text>
<text x="555.4" y="798.6" font-size="15" font-family='"Liberation Serif", serif' fill="#444444" text-anchor="middle">100</text>
<text x="638.6" y="798.6" font-size="15" font-family='"Liberation Serif", serif' fill="#444444" text-anchor="middle">120</text>
<text transform="translate(106,707.45) rotate(-90)" x="0" y="0" font-size="19" font-style="italic" font-family='"Liberation Serif", serif' fill="#4a4a4a" textLength="49" lengthAdjust="spacingAndGlyphs">C1&#160;&#160;Cd</text>
<text x="387.2" y="823.7" font-size="20" font-family='"Liberation Serif", serif' fill="#3a3a3a" font-style="italic">t</text>
<path d="M139.7,627 V690" stroke="#c06040" stroke-width="1.2" opacity="0.8"/>
<path d="M139.8,668.5 C140.3,671.53 140.8,677.6 141.3,677.6 C143.07,677.6 144.83,668.77 146.6,665.5 C148.63,661.74 150.67,662.14 152.7,656.5 C155.2,649.57 157.7,637.09 160.2,627.8 C162.07,620.86 163.93,607.8 165.8,607.8 C167.2,607.8 168.6,616.22 170,620 C171.5,624.05 173,628.09 174.5,631.3 C177.53,637.79 180.57,649.1 183.6,649.1 C184.87,649.1 186.13,643.31 187.4,640.4 C188.27,638.41 189.13,634.4 190,634.4 C191.9,634.4 193.8,634.4 195.7,635.9 C197.2,637.08 198.7,642.12 200.2,644.9 C201.2,646.75 202.2,649.8 203.2,649.8 C204.73,649.8 206.27,642.54 207.8,638.9 C210.3,632.97 212.8,621.1 215.3,621.1 C217.33,621.1 219.37,624.19 221.4,627.6 C222.9,630.12 224.4,636.13 225.9,638.9 C227.4,641.67 228.9,644.2 230.4,644.2 C231.93,644.2 233.47,634.88 235,632.8 C237,630.08 239,629.8 241,629.8 C242,629.8 243,634.06 244,634.4 C245,634.74 246,634.49 247,635.1 C248.03,635.73 249.07,640.61 250.1,644.2 C251.1,647.68 252.1,652.76 253.1,656.3 C254.37,660.79 255.63,668.3 256.9,668.3 C258.13,668.3 259.37,662.39 260.6,657.8 C262.13,652.09 263.67,637.4 265.2,637.4 C266.8,637.4 268.4,641.07 270,642.7 C271.67,644.4 273.33,646.24 275,647.4 C277.03,648.81 279.07,648.62 281.1,650.4 C283.1,652.15 285.1,658 287.1,658 C288.6,658 290.1,655.7 291.6,655.7 C293.63,655.7 295.67,657.2 297.7,657.2 C299.7,657.2 301.7,651.33 303.7,648.9 C306.47,645.53 309.23,639.8 312,639.8 C315.53,639.8 319.07,649.7 322.6,649.7 C324.73,649.7 326.87,645.64 329,643.9 C330.27,642.87 331.53,642.24 332.8,641.4 C334.1,640.54 335.4,638.8 336.7,638.8 C338.4,638.8 340.1,644.03 341.8,646.5 C344.37,650.23 346.93,657.4 349.5,657.4 C352.93,657.4 356.37,644.6 359.8,644.6 C364.07,644.6 368.33,664.5 372.6,664.5 C376.9,664.5 381.2,640.1 385.5,640.1 C389.33,640.1 393.17,656.1 397,656.1 C401.3,656.1 405.6,631.1 409.9,631.1 C413.53,631.1 417.17,651 420.8,651 C424.87,651 428.93,616.3 433,616.3 C437.5,616.3 442,643.9 446.5,643.9 C450.33,643.9 454.17,617 458,617 C460.8,617 463.6,632.84 466.4,637.5 C470.03,643.54 473.67,649.1 477.3,649.1 C480.07,649.1 482.83,631.7 485.6,631.7 C488,631.7 490.4,640.32 492.8,642.6 C495.8,645.45 498.8,647.1 501.8,647.1 C505.23,647.1 508.67,646.37 512.1,645.2 C514.23,644.47 516.37,641.4 518.5,641.4 C521.3,641.4 524.1,652.9 526.9,652.9 C530.73,652.9 534.57,641.4 538.4,641.4 C540.77,641.4 543.13,654.8 545.5,654.8 C549.33,654.8 553.17,623.4 557,623.4 C562.17,623.4 567.33,653.6 572.5,653.6 C575.47,653.6 578.43,629.8 581.4,629.8 C586.53,629.8 591.67,652.3 596.8,652.3 C600.03,652.3 603.27,639.4 606.5,639.4 C610.33,639.4 614.17,646.5 618,646.5 C619.07,646.5 620.13,641.97 621.2,638.8 C622.93,633.64 624.67,627.27 626.4,621.5" fill="none" stroke="#f44848" stroke-width="1.85" stroke-linejoin="round"/>
<path d="M139.8,686.7 C140.57,683.67 141.33,679.02 142.1,677.6 C144.87,672.46 147.63,667 150.4,667 C152.67,667 154.93,669.45 157.2,677.6 C159.7,686.59 162.2,709.9 164.7,718.4 C166.47,724.4 168.23,723.05 170,724.6 C171.9,726.26 173.8,728.8 175.7,728.8 C177.07,728.8 178.43,728.8 179.8,724.2 C181.07,719.94 182.33,702.76 183.6,695.5 C185.1,686.9 186.6,682.18 188.1,676.6 C189.37,671.88 190.63,667.48 191.9,664.6 C193.17,661.72 194.43,661.54 195.7,659.3 C196.43,658 197.17,655.36 197.9,654 C198.8,652.33 199.7,650.2 200.6,650.2 C201.97,650.2 203.33,654.99 204.7,660 C205.73,663.79 206.77,670.59 207.8,676.6 C208.8,682.42 209.8,689.38 210.8,695.5 C212.07,703.25 213.33,713.24 214.6,718.2 C216.1,724.07 217.6,725.93 219.1,728 C220.6,730.07 222.1,730.6 223.6,730.6 C225.13,730.6 226.67,730.08 228.2,725.7 C229.43,722.18 230.67,713.74 231.9,706.9 C232.93,701.17 233.97,694.79 235,688 C236,681.43 237,672.14 238,666.8 C239.27,660.04 240.53,655.15 241.8,651.7 C243.03,648.35 244.27,648.63 245.5,646.4 C246.5,644.59 247.5,641.13 248.5,639.6 C249.63,637.86 250.77,636.6 251.9,636.6 C253.03,636.6 254.17,638.48 255.3,642.7 C256.07,645.55 256.83,652.35 257.6,657.8 C258.6,664.91 259.6,673.45 260.6,680.4 C262.13,691.05 263.67,701.82 265.2,710.6 C266.7,719.19 268.2,729.27 269.7,732.5 C271.23,735.8 272.77,735.8 274.3,735.8 C277.57,735.8 280.83,732.93 284.1,718.4 C286.1,709.5 288.1,677.89 290.1,665.5 C292.37,651.46 294.63,639.1 296.9,639.1 C299.17,639.1 301.43,642.59 303.7,653.4 C306.23,665.49 308.77,695 311.3,707.8 C314.3,722.96 317.3,737.3 320.3,737.3 C322.33,737.3 324.37,737.16 326.4,728.7 C328.97,718.02 331.53,697.27 334.1,679.9 C335.83,668.17 337.57,649.16 339.3,641.4 C341.63,630.96 343.97,625.3 346.3,625.3 C348.67,625.3 351.03,630.62 353.4,641.4 C355.97,653.09 358.53,678.61 361.1,692.7 C364.3,710.27 367.5,736.4 370.7,736.4 C373.07,736.4 375.43,729.5 377.8,718.4 C380.37,706.36 382.93,679.96 385.5,667 C388.4,652.36 391.3,635.6 394.2,635.6 C396.23,635.6 398.27,640.42 400.3,650.3 C403.07,663.75 405.83,689.14 408.6,705.6 C411.27,721.47 413.93,747.3 416.6,747.3 C419.07,747.3 421.53,732.75 424,718.4 C426.13,705.99 428.27,678.29 430.4,667 C433.2,652.19 436,640.1 438.8,640.1 C441.57,640.1 444.33,642.17 447.1,651.6 C449.23,658.87 451.37,678.53 453.5,690.2 C456.07,704.23 458.63,720.11 461.2,728.7 C463.37,735.95 465.53,737.7 467.7,737.7 C469.83,737.7 471.97,735.73 474.1,726.1 C476.23,716.47 478.37,694.59 480.5,679.9 C482.47,666.36 484.43,648.9 486.4,641.4 C488.53,633.27 490.67,633 492.8,633 C494.53,633 496.27,633.38 498,641.4 C500.57,653.28 503.13,677.52 505.7,692.7 C507.83,705.32 509.97,722.42 512.1,724.8 C513.8,726.7 515.5,726.7 517.2,726.7 C518.93,726.7 520.67,725.55 522.4,718.4 C524.97,707.81 527.53,684.05 530.1,673.5 C531.8,666.51 533.5,668.31 535.2,665.8 C537.57,662.31 539.93,655.5 542.3,655.5 C544.23,655.5 546.17,664.55 548.1,673.5 C550.23,683.38 552.37,702.24 554.5,712 C556.2,719.78 557.9,722.96 559.6,726.1 C561.97,730.46 564.33,734.5 566.7,734.5 C568.63,734.5 570.57,717.31 572.5,705.6 C574.63,692.68 576.77,669.37 578.9,660.6 C581.67,649.23 584.43,645.2 587.2,645.2 C589.13,645.2 591.07,647.4 593,652.9 C595.13,658.97 597.27,671.74 599.4,679.9 C601.97,689.71 604.53,700.7 607.1,706.8 C609.03,711.4 610.97,712 612.9,712 C614.83,712 616.77,709.9 618.7,703 C621.27,693.84 623.83,676.87 626.4,663.8" fill="none" stroke="#585858" stroke-width="1.9" stroke-linejoin="round"/>
<path d="M308.5,603.2 H346.5" stroke="#707070" stroke-width="2"/>
<text x="355.5" y="609.7" font-size="19.5" font-family='"Liberation Serif", serif' fill="#3a3a3a" textLength="16.5" lengthAdjust="spacingAndGlyphs">C1</text>
<path d="M383.6,603.2 H421.5" stroke="#f25050" stroke-width="2"/>
<text x="430.7" y="609.7" font-size="19.5" font-family='"Liberation Serif", serif' fill="#3a3a3a" textLength="17.8" lengthAdjust="spacingAndGlyphs">Cd</text>
<text transform="translate(489,610) scale(1,1.12)" x="0" y="0" font-size="16.8" font-style="italic" font-weight="bold" font-family='"Liberation Serif", serif' fill="#3535f0" textLength="68.5" lengthAdjust="spacingAndGlyphs">A/D=0. 5</text>
<text transform="translate(567.5,610) scale(1,1.12)" x="0" y="0" font-size="17" font-style="italic" font-weight="bold" font-family='"Liberation Serif", serif' fill="#3535f0">f</text>
<text transform="translate(575,615) scale(1,1.12)" x="0" y="0" font-size="12" font-style="italic" font-weight="normal" font-family='"Liberation Serif", serif' fill="#5a5af5">e</text>
<text transform="translate(580,610) scale(1,1.12)" x="0" y="0" font-size="17" font-style="italic" font-weight="normal" font-family='"Liberation Serif", serif' fill="#3535f0" textLength="10.5" lengthAdjust="spacingAndGlyphs">/</text>
<text transform="translate(592,610) scale(1,1.12)" x="0" y="0" font-size="17" font-style="italic" font-weight="bold" font-family='"Liberation Serif", serif' fill="#3535f0">f</text>
<text transform="translate(600.4,615) scale(1,1.12)" x="0" y="0" font-size="12" font-style="italic" font-weight="normal" font-family='"Liberation Serif", serif' fill="#5a5af5">s</text>
<text transform="translate(607.9,610) scale(1,1.12)" x="0" y="0" font-size="16.5" font-style="italic" font-weight="bold" font-family='"Liberation Serif", serif' fill="#3535f0" textLength="46.1" lengthAdjust="spacingAndGlyphs">=0. 95</text>
<rect x="791.8" y="596.3" width="490.5" height="172" fill="none" stroke="#979797" stroke-width="1.5"/>
<path d="M785.3,746.1 H791.8 M1275.8,746.1 H1282.3 M788.2,724.6 H791.8 M1278.7,724.6 H1282.3 M785.3,703.1 H791.8 M1275.8,703.1 H1282.3 M788.2,681.6 H791.8 M1278.7,681.6 H1282.3 M785.3,660.1 H791.8 M1275.8,660.1 H1282.3 M788.2,638.6 H791.8 M1278.7,638.6 H1282.3 M785.3,617.1 H791.8 M1275.8,617.1 H1282.3 M788.2,595.6 H791.8 M1278.7,595.6 H1282.3 M788.2,767.6 H791.8 M1278.7,767.6 H1282.3 M791.8,768.3 V774.8 M791.8,596.3 V602.8 M816.32,768.3 V771.6 M816.32,596.3 V599.6 M840.85,768.3 V774.8 M840.85,596.3 V602.8 M865.38,768.3 V771.6 M865.38,596.3 V599.6 M889.9,768.3 V774.8 M889.9,596.3 V602.8 M914.42,768.3 V771.6 M914.42,596.3 V599.6 M938.95,768.3 V774.8 M938.95,596.3 V602.8 M963.47,768.3 V771.6 M963.47,596.3 V599.6 M988,768.3 V774.8 M988,596.3 V602.8 M1012.52,768.3 V771.6 M1012.52,596.3 V599.6 M1037.05,768.3 V774.8 M1037.05,596.3 V602.8 M1061.57,768.3 V771.6 M1061.57,596.3 V599.6 M1086.1,768.3 V774.8 M1086.1,596.3 V602.8 M1110.62,768.3 V771.6 M1110.62,596.3 V599.6 M1135.15,768.3 V774.8 M1135.15,596.3 V602.8 M1159.67,768.3 V771.6 M1159.67,596.3 V599.6 M1184.2,768.3 V774.8 M1184.2,596.3 V602.8 M1208.72,768.3 V771.6 M1208.72,596.3 V599.6 M1233.25,768.3 V774.8 M1233.25,596.3 V602.8 M1257.78,768.3 V771.6 M1257.78,596.3 V599.6 M1282.3,768.3 V774.8 M1282.3,596.3 V602.8" fill="none" stroke="#979797" stroke-width="1.5"/>
<text x="779.2" y="751.1" font-size="15" font-family='"Liberation Serif", serif' fill="#444444" text-anchor="end">0. 0</text>
<text x="779.2" y="708.1" font-size="15" font-family='"Liberation Serif", serif' fill="#444444" text-anchor="end">0. 8</text>
<text x="779.2" y="665.1" font-size="15" font-family='"Liberation Serif", serif' fill="#444444" text-anchor="end">1. 6</text>
<text x="779.2" y="622.1" font-size="15" font-family='"Liberation Serif", serif' fill="#444444" text-anchor="end">2. 4</text>
<text x="791.8" y="793.3" font-size="15" font-family='"Liberation Serif", serif' fill="#444444" text-anchor="middle">0. 00</text>
<text x="840.85" y="793.3" font-size="15" font-family='"Liberation Serif", serif' fill="#444444" text-anchor="middle">0. 02</text>
<text x="889.9" y="793.3" font-size="15" font-family='"Liberation Serif", serif' fill="#444444" text-anchor="middle">0. 04</text>
<text x="938.95" y="793.3" font-size="15" font-family='"Liberation Serif", serif' fill="#444444" text-anchor="middle">0. 06</text>
<text x="988" y="793.3" font-size="15" font-family='"Liberation Serif", serif' fill="#444444" text-anchor="middle">0. 08</text>
<text x="1037.05" y="793.3" font-size="15" font-family='"Liberation Serif", serif' fill="#444444" text-anchor="middle">0. 10</text>
<text x="1086.1" y="793.3" font-size="15" font-family='"Liberation Serif", serif' fill="#444444" text-anchor="middle">0. 12</text>
<text x="1135.15" y="793.3" font-size="15" font-family='"Liberation Serif", serif' fill="#444444" text-anchor="middle">0. 14</text>
<text x="1184.2" y="793.3" font-size="15" font-family='"Liberation Serif", serif' fill="#444444" text-anchor="middle">0. 16</text>
<text x="1233.25" y="793.3" font-size="15" font-family='"Liberation Serif", serif' fill="#444444" text-anchor="middle">0. 18</text>
<text x="1282.3" y="793.3" font-size="15" font-family='"Liberation Serif", serif' fill="#444444" text-anchor="middle">0. 20</text>
<text x="987.8" y="817.1" font-size="19" font-family='"Liberation Serif", serif' fill="#262626" textLength="113" lengthAdjust="spacingAndGlyphs" stroke="#262626" stroke-width="0.3">Frequency/Hz</text>
<text transform="translate(748,681.9) rotate(-90)" x="0" y="0" text-anchor="middle" font-size="18.5" font-family='"Liberation Serif", serif' fill="#222" stroke="#222" stroke-width="0.3">PSD</text>
<path d="M791.9,739.3 L813.5,738.3 L834.1,740.8 L854.7,743.2 L875.3,733 L896.5,740.8 L917.6,731.8 L938.2,742.2 L959.8,733.8 L980.4,733.8 L1001,634.8 L1022.2,728.5 L1043.4,744.2 L1063.4,741.2 L1085,741.2 L1105.6,741.2 L1126.2,741.6 L1147.8,741.6 L1168.5,743.6 L1190.1,742.2 L1210.7,742.6 L1231.3,742.6 L1251.9,744.6 L1272.5,743.2 L1282.3,742.8" fill="none" stroke="#1f1f1f" stroke-width="1.9" stroke-linejoin="round"/>
<text transform="translate(966.7,621.2) scale(1,1.12)" x="0" y="0" font-size="16.8" font-style="italic" font-weight="bold" font-family='"Liberation Serif", serif' fill="#3535f0" textLength="68.5" lengthAdjust="spacingAndGlyphs">A/D=0. 5</text>
<text transform="translate(1045.2,621.2) scale(1,1.12)" x="0" y="0" font-size="17" font-style="italic" font-weight="bold" font-family='"Liberation Serif", serif' fill="#3535f0">f</text>
<text transform="translate(1052.7,626.2) scale(1,1.12)" x="0" y="0" font-size="12" font-style="italic" font-weight="normal" font-family='"Liberation Serif", serif' fill="#5a5af5">e</text>
<text transform="translate(1057.7,621.2) scale(1,1.12)" x="0" y="0" font-size="17" font-style="italic" font-weight="normal" font-family='"Liberation Serif", serif' fill="#3535f0" textLength="10.5" lengthAdjust="spacingAndGlyphs">/</text>
<text transform="translate(1069.7,621.2) scale(1,1.12)" x="0" y="0" font-size="17" font-style="italic" font-weight="bold" font-family='"Liberation Serif", serif' fill="#3535f0">f</text>
<text transform="translate(1078.1,626.2) scale(1,1.12)" x="0" y="0" font-size="12" font-style="italic" font-weight="normal" font-family='"Liberation Serif", serif' fill="#5a5af5">s</text>
<text transform="translate(1085.6,621.2) scale(1,1.12)" x="0" y="0" font-size="16.5" font-style="italic" font-weight="bold" font-family='"Liberation Serif", serif' fill="#3535f0" textLength="46.5" lengthAdjust="spacingAndGlyphs">=0. 95</text>
<text stroke="#ff3030" stroke-width="0.3" x="894" y="651.9" font-size="18" font-style="italic" font-weight="normal" font-family='"Liberation Serif", serif' fill="#ff3030" textLength="97.2" lengthAdjust="spacingAndGlyphs"><tspan>f</tspan><tspan font-size="12.96" dy="5.04">e</tspan><tspan dy="-5.04">=0.08547</tspan></text>
<rect x="73.4" y="856.8" width="1232.6" height="262.2" fill="none" stroke="#2b2724" stroke-width="2.8"/>
<text x="62.3" y="899.1" font-size="42" font-family='"Liberation Serif", serif' fill="#1c1a18" text-anchor="end" stroke="#1c1a18" stroke-width="0.35">(d)</text>
<path d="M139.4,876.8 V1052.8 H638.6" fill="none" stroke="#2b2b2b" stroke-width="1.7"/>
<path d="M132.8,1052.8 H139.4 M135.8,1041.8 H139.4 M132.8,1030.8 H139.4 M135.8,1019.8 H139.4 M132.8,1008.8 H139.4 M135.8,997.8 H139.4 M132.8,986.8 H139.4 M135.8,975.8 H139.4 M132.8,964.8 H139.4 M135.8,953.8 H139.4 M132.8,942.8 H139.4 M135.8,931.8 H139.4 M132.8,920.8 H139.4 M135.8,909.8 H139.4 M132.8,898.8 H139.4 M135.8,887.8 H139.4 M132.8,876.8 H139.4 M139.4,1052.8 V1059.4 M189.32,1052.8 V1056.1 M239.24,1052.8 V1059.4 M289.16,1052.8 V1056.1 M339.08,1052.8 V1059.4 M389,1052.8 V1056.1 M438.92,1052.8 V1059.4 M488.84,1052.8 V1056.1 M538.76,1052.8 V1059.4 M588.68,1052.8 V1056.1 M638.6,1052.8 V1059.4" fill="none" stroke="#2b2b2b" stroke-width="1.7"/>
<text x="127.6" y="1058.7" text-anchor="end" font-size="15" font-family='"Liberation Serif", serif' fill="#444444"><tspan fill="#b5b5b5">&#8722;</tspan>4</text>
<text x="127.6" y="1036.7" text-anchor="end" font-size="15" font-family='"Liberation Serif", serif' fill="#444444"><tspan fill="#b5b5b5">&#8722;</tspan>3</text>
<text x="127.6" y="1014.7" text-anchor="end" font-size="15" font-family='"Liberation Serif", serif' fill="#444444"><tspan fill="#b5b5b5">&#8722;</tspan>2</text>
<text x="127.6" y="992.7" text-anchor="end" font-size="15" font-family='"Liberation Serif", serif' fill="#444444"><tspan fill="#b5b5b5">&#8722;</tspan>1</text>
<text x="127.6" y="970.7" font-size="15" font-family='"Liberation Serif", serif' fill="#444444" text-anchor="end">0</text>
<text x="127.6" y="948.7" font-size="15" font-family='"Liberation Serif", serif' fill="#444444" text-anchor="end">1</text>
<text x="127.6" y="926.7" font-size="15" font-family='"Liberation Serif", serif' fill="#444444" text-anchor="end">2</text>
<text x="127.6" y="904.7" font-size="15" font-family='"Liberation Serif", serif' fill="#444444" text-anchor="end">3</text>
<text x="127.6" y="882.7" font-size="15" font-family='"Liberation Serif", serif' fill="#444444" text-anchor="end">4</text>
<text x="139.4" y="1077.9" font-size="15" font-family='"Liberation Serif", serif' fill="#444444" text-anchor="middle">0</text>
<text x="239.24" y="1077.9" font-size="15" font-family='"Liberation Serif", serif' fill="#444444" text-anchor="middle">20</text>
<text x="339.08" y="1077.9" font-size="15" font-family='"Liberation Serif", serif' fill="#444444" text-anchor="middle">40</text>
<text x="438.92" y="1077.9" font-size="15" font-family='"Liberation Serif", serif' fill="#444444" text-anchor="middle">60</text>
<text x="538.76" y="1077.9" font-size="15" font-family='"Liberation Serif", serif' fill="#444444" text-anchor="middle">80</text>
<text x="638.6" y="1077.9" font-size="15" font-family='"Liberation Serif", serif' fill="#444444" text-anchor="middle">100</text>
<text transform="translate(106,986.7) rotate(-90)" x="0" y="0" font-size="19" font-style="italic" font-family='"Liberation Serif", serif' fill="#4a4a4a" textLength="49" lengthAdjust="spacingAndGlyphs">C1&#160;&#160;Cd</text>
<text x="387.2" y="1102.5" font-size="20" font-family='"Liberation Serif", serif' fill="#3a3a3a" font-style="italic">t</text>
<path d="M139.7,908 V966" stroke="#c06040" stroke-width="1.2" opacity="0.8"/>
<path d="M139.8,936.5 C140.57,943.03 141.33,956.1 142.1,956.1 C143.6,956.1 145.1,952.56 146.6,950.1 C148.63,946.76 150.67,945.05 152.7,938.7 C154.7,932.45 156.7,919.32 158.7,912.3 C162.33,899.55 165.97,879.4 169.6,879.4 C171.5,879.4 173.4,888.08 175.3,894.2 C179.07,906.34 182.83,934.2 186.6,934.2 C188.37,934.2 190.13,922.34 191.9,918.3 C193.93,913.64 195.97,908.1 198,908.1 C200.5,908.1 203,917.85 205.5,921.4 C208.77,926.05 212.03,932.7 215.3,932.7 C218.1,932.7 220.9,924.7 223.7,924.7 C227.2,924.7 230.7,929.2 234.2,929.2 C237.73,929.2 241.27,926.2 244.8,926.2 C246.8,926.2 248.8,926.29 250.8,927.4 C253.6,928.96 256.4,934.2 259.2,934.2 C263.57,934.2 267.93,918 272.3,918 C277.23,918 282.17,931.2 287.1,931.2 C291.53,931.2 295.97,913 300.4,913 C304.63,913 308.87,930.4 313.1,930.4 C315.5,930.4 317.9,920.06 320.3,915.3 C322.33,911.26 324.37,904 326.4,904 C328.53,904 330.67,907.41 332.8,911.1 C335.37,915.54 337.93,928.4 340.5,928.4 C342.67,928.4 344.83,927.1 347,927.1 C349.13,927.1 351.27,928.71 353.4,930.3 C357.03,933.01 360.67,940 364.3,940 C366.67,940 369.03,932.92 371.4,930.3 C373.1,928.42 374.8,926.5 376.5,926.5 C378.63,926.5 380.77,929.78 382.9,931.6 C385.03,933.42 387.17,937.4 389.3,937.4 C391.47,937.4 393.63,932.21 395.8,927.8 C398.37,922.58 400.93,911.13 403.5,908.5 C404.77,907.2 406.03,907.2 407.3,907.2 C409,907.2 410.7,913.19 412.4,916.2 C414.33,919.62 416.27,926.5 418.2,926.5 C420.57,926.5 422.93,917.23 425.3,912.4 C427.87,907.16 430.43,896.3 433,896.3 C434.7,896.3 436.4,901.63 438.1,906 C439.73,910.2 441.37,922 443,922 C444.8,922 446.6,922 448.4,921.4 C450.1,920.83 451.8,920.28 453.5,917.5 C455.73,913.85 457.97,902.1 460.2,902.1 C462.27,902.1 464.33,909.11 466.4,912.4 C468.1,915.11 469.8,916.5 471.5,920.1 C473.43,924.2 475.37,935.5 477.3,935.5 C479.23,935.5 481.17,924.72 483.1,920.1 C484.83,915.96 486.57,909.2 488.3,909.2 C490.67,909.2 493.03,917.13 495.4,920.1 C497.97,923.33 500.53,926.84 503.1,927.8 C506.53,929.08 509.97,928.29 513.4,929.7 C517.23,931.27 521.07,940.6 524.9,940.6 C527.07,940.6 529.23,931.4 531.4,927.8 C533.73,923.93 536.07,918.2 538.4,918.2 C542.7,918.2 547,938.7 551.3,938.7 C555.77,938.7 560.23,912.4 564.7,912.4 C569.07,912.4 573.43,937.4 577.8,937.4 C582.77,937.4 587.73,903.6 592.7,903.6 C596.53,903.6 600.37,925.9 604.2,925.9 C608.5,925.9 612.8,900.2 617.1,900.2 C621.9,900.2 626.7,937.4 631.5,937.4 C633.87,937.4 636.23,926.73 638.6,921.4" fill="none" stroke="#f44848" stroke-width="1.85" stroke-linejoin="round"/>
<path d="M139.8,966.7 C141.07,961.67 142.33,954.65 143.6,951.6 C146.1,945.58 148.6,939.5 151.1,939.5 C152.87,939.5 154.63,939.97 156.4,944 C158.17,948.03 159.93,955.65 161.7,963.7 C164.47,976.31 167.23,996.98 170,1006 C173.8,1018.38 177.6,1027.9 181.4,1027.9 C183.9,1027.9 186.4,1013.28 188.9,998.4 C191.43,983.32 193.97,953.12 196.5,938 C199.27,921.49 202.03,903.5 204.8,903.5 C207.07,903.5 209.33,903.5 211.6,912.3 C214.6,923.95 217.6,960.13 220.6,975.7 C224.63,996.63 228.67,1021.8 232.7,1021.8 C235.73,1021.8 238.77,1013.21 241.8,998.4 C244.8,983.75 247.8,948.75 250.8,933.4 C253.23,920.95 255.67,915 258.1,915 C260.73,915 263.37,918.72 266,930.4 C268.5,941.49 271,971.04 273.5,983.3 C276.93,1000.14 280.37,1017.7 283.8,1017.7 C286.4,1017.7 289,1017.7 291.6,1006 C294.13,994.6 296.67,952.72 299.2,938 C302.63,918.05 306.07,902 309.5,902 C312.1,902 314.7,907.36 317.3,919.8 C319.83,931.92 322.37,956.62 324.9,975.7 C326.7,989.26 328.5,1009.29 330.3,1017.7 C332.87,1029.69 335.43,1036.9 338,1036.9 C340.57,1036.9 343.13,1034.62 345.7,1024.1 C347.83,1015.35 349.97,994.08 352.1,979.1 C354.23,964.12 356.37,944.44 358.5,934.2 C360.87,922.84 363.23,914.3 365.6,914.3 C367.53,914.3 369.47,915.19 371.4,921.4 C373.53,928.25 375.67,941.59 377.8,953.5 C379.5,962.99 381.2,977.63 382.9,985.6 C385.03,995.6 387.17,1007.4 389.3,1007.4 C391.47,1007.4 393.63,1005.08 395.8,997.1 C397.93,989.24 400.07,972.52 402.2,959.9 C404.33,947.28 406.47,929.83 408.6,921.4 C410.53,913.76 412.47,911.7 414.4,911.7 C416.73,911.7 419.07,915.76 421.4,925.2 C423.57,933.96 425.73,951.86 427.9,966.3 C430.03,980.52 432.17,1000.64 434.3,1011.2 C436.23,1020.77 438.17,1026.7 440.1,1026.7 C442.43,1026.7 444.77,1023.2 447.1,1013.8 C449.23,1005.2 451.37,986.92 453.5,972.7 C455.67,958.26 457.83,935.44 460,927.8 C463.83,914.28 467.67,909.2 471.5,909.2 C473.63,909.2 475.77,909.84 477.9,921.4 C480.07,933.14 482.23,961.86 484.4,979.1 C486.27,993.96 488.13,1010.73 490,1017.7 C492.67,1027.66 495.33,1029.9 498,1029.9 C500.13,1029.9 502.27,1028.29 504.4,1017.7 C506.97,1004.96 509.53,977.43 512.1,959.9 C514.23,945.33 516.37,930.43 518.5,921.4 C520.23,914.06 521.97,910.8 523.7,910.8 C526.27,910.8 528.83,916.53 531.4,927.8 C533.53,937.17 535.67,958.42 537.8,972.7 C539.5,984.08 541.2,997.89 542.9,1004.8 C544.83,1012.66 546.77,1017 548.7,1017 C550.63,1017 552.57,1012.98 554.5,1004.8 C557.07,993.94 559.63,976.96 562.2,959.9 C564.33,945.72 566.47,920.58 568.6,911.1 C570.4,903.1 572.2,903.1 574,903.1 C576.07,903.1 578.13,905.2 580.2,912.4 C582.33,919.83 584.47,932.67 586.6,947 C588.73,961.33 590.87,984.29 593,998.4 C595.37,1014.06 597.73,1036.3 600.1,1036.3 C602.43,1036.3 604.77,1028.77 607.1,1017.7 C609.23,1007.57 611.37,988.63 613.5,972.7 C615.67,956.53 617.83,931.91 620,921.4 C622.97,907.01 625.93,898 628.9,898 C630.63,898 632.37,902.03 634.1,908.5 C635.6,914.1 637.1,925.63 638.6,934.2" fill="none" stroke="#585858" stroke-width="1.9" stroke-linejoin="round"/>
<path d="M308.5,883.4 H346.5" stroke="#707070" stroke-width="2"/>
<text x="355.5" y="889.9" font-size="19.5" font-family='"Liberation Serif", serif' fill="#3a3a3a" textLength="16.5" lengthAdjust="spacingAndGlyphs">C1</text>
<path d="M399,883.4 H421.5" stroke="#f25050" stroke-width="2"/>
<text x="430.7" y="889.9" font-size="19.5" font-family='"Liberation Serif", serif' fill="#3a3a3a" textLength="17.8" lengthAdjust="spacingAndGlyphs">Cd</text>
<text x="386.6" y="891.4" font-size="26" font-family='"Liberation Serif", serif' fill="#444" font-style="italic">t</text>
<text transform="translate(489,889.2) scale(1,1.12)" x="0" y="0" font-size="16.8" font-style="italic" font-weight="bold" font-family='"Liberation Serif", serif' fill="#3535f0" textLength="68.5" lengthAdjust="spacingAndGlyphs">A/D=0. 5</text>
<text transform="translate(567.5,889.2) scale(1,1.12)" x="0" y="0" font-size="17" font-style="italic" font-weight="bold" font-family='"Liberation Serif", serif' fill="#3535f0">f</text>
<text transform="translate(575,894.2) scale(1,1.12)" x="0" y="0" font-size="12" font-style="italic" font-weight="normal" font-family='"Liberation Serif", serif' fill="#5a5af5">e</text>
<text transform="translate(580,889.2) scale(1,1.12)" x="0" y="0" font-size="17" font-style="italic" font-weight="normal" font-family='"Liberation Serif", serif' fill="#3535f0" textLength="10.5" lengthAdjust="spacingAndGlyphs">/</text>
<text transform="translate(592,889.2) scale(1,1.12)" x="0" y="0" font-size="17" font-style="italic" font-weight="bold" font-family='"Liberation Serif", serif' fill="#3535f0">f</text>
<text transform="translate(600.4,894.2) scale(1,1.12)" x="0" y="0" font-size="12" font-style="italic" font-weight="normal" font-family='"Liberation Serif", serif' fill="#5a5af5">s</text>
<text transform="translate(607.9,889.2) scale(1,1.12)" x="0" y="0" font-size="16.5" font-style="italic" font-weight="bold" font-family='"Liberation Serif", serif' fill="#3535f0" textLength="46.1" lengthAdjust="spacingAndGlyphs">=1. 05</text>
<rect x="791.8" y="874.5" width="490.5" height="171.8" fill="none" stroke="#979797" stroke-width="1.5"/>
<path d="M785.3,1025.5 H791.8 M1275.8,1025.5 H1282.3 M788.2,1004 H791.8 M1278.7,1004 H1282.3 M785.3,982.5 H791.8 M1275.8,982.5 H1282.3 M788.2,961 H791.8 M1278.7,961 H1282.3 M785.3,939.5 H791.8 M1275.8,939.5 H1282.3 M788.2,918 H791.8 M1278.7,918 H1282.3 M785.3,896.5 H791.8 M1275.8,896.5 H1282.3 M788.2,875 H791.8 M1278.7,875 H1282.3 M788.2,1047 H791.8 M1278.7,1047 H1282.3 M791.8,1046.3 V1052.8 M791.8,874.5 V881 M816.32,1046.3 V1049.6 M816.32,874.5 V877.8 M840.85,1046.3 V1052.8 M840.85,874.5 V881 M865.38,1046.3 V1049.6 M865.38,874.5 V877.8 M889.9,1046.3 V1052.8 M889.9,874.5 V881 M914.42,1046.3 V1049.6 M914.42,874.5 V877.8 M938.95,1046.3 V1052.8 M938.95,874.5 V881 M963.47,1046.3 V1049.6 M963.47,874.5 V877.8 M988,1046.3 V1052.8 M988,874.5 V881 M1012.52,1046.3 V1049.6 M1012.52,874.5 V877.8 M1037.05,1046.3 V1052.8 M1037.05,874.5 V881 M1061.57,1046.3 V1049.6 M1061.57,874.5 V877.8 M1086.1,1046.3 V1052.8 M1086.1,874.5 V881 M1110.62,1046.3 V1049.6 M1110.62,874.5 V877.8 M1135.15,1046.3 V1052.8 M1135.15,874.5 V881 M1159.67,1046.3 V1049.6 M1159.67,874.5 V877.8 M1184.2,1046.3 V1052.8 M1184.2,874.5 V881 M1208.72,1046.3 V1049.6 M1208.72,874.5 V877.8 M1233.25,1046.3 V1052.8 M1233.25,874.5 V881 M1257.78,1046.3 V1049.6 M1257.78,874.5 V877.8 M1282.3,1046.3 V1052.8 M1282.3,874.5 V881" fill="none" stroke="#979797" stroke-width="1.5"/>
<text x="779.2" y="1030.5" font-size="15" font-family='"Liberation Serif", serif' fill="#444444" text-anchor="end">0</text>
<text x="779.2" y="987.5" font-size="15" font-family='"Liberation Serif", serif' fill="#444444" text-anchor="end">1</text>
<text x="779.2" y="944.5" font-size="15" font-family='"Liberation Serif", serif' fill="#444444" text-anchor="end">2</text>
<text x="779.2" y="901.5" font-size="15" font-family='"Liberation Serif", serif' fill="#444444" text-anchor="end">3</text>
<text x="791.8" y="1071.3" font-size="15" font-family='"Liberation Serif", serif' fill="#444444" text-anchor="middle">0. 00</text>
<text x="840.85" y="1071.3" font-size="15" font-family='"Liberation Serif", serif' fill="#444444" text-anchor="middle">0. 02</text>
<text x="889.9" y="1071.3" font-size="15" font-family='"Liberation Serif", serif' fill="#444444" text-anchor="middle">0. 04</text>
<text x="938.95" y="1071.3" font-size="15" font-family='"Liberation Serif", serif' fill="#444444" text-anchor="middle">0. 06</text>
<text x="988" y="1071.3" font-size="15" font-family='"Liberation Serif", serif' fill="#444444" text-anchor="middle">0. 08</text>
<text x="1037.05" y="1071.3" font-size="15" font-family='"Liberation Serif", serif' fill="#444444" text-anchor="middle">0. 10</text>
<text x="1086.1" y="1071.3" font-size="15" font-family='"Liberation Serif", serif' fill="#444444" text-anchor="middle">0. 12</text>
<text x="1135.15" y="1071.3" font-size="15" font-family='"Liberation Serif", serif' fill="#444444" text-anchor="middle">0. 14</text>
<text x="1184.2" y="1071.3" font-size="15" font-family='"Liberation Serif", serif' fill="#444444" text-anchor="middle">0. 16</text>
<text x="1233.25" y="1071.3" font-size="15" font-family='"Liberation Serif", serif' fill="#444444" text-anchor="middle">0. 18</text>
<text x="1282.3" y="1071.3" font-size="15" font-family='"Liberation Serif", serif' fill="#444444" text-anchor="middle">0. 20</text>
<text x="987.8" y="1095.1" font-size="19" font-family='"Liberation Serif", serif' fill="#262626" textLength="113" lengthAdjust="spacingAndGlyphs" stroke="#262626" stroke-width="0.3">Frequency/Hz</text>
<text transform="translate(755,959.5) rotate(-90)" x="0" y="0" text-anchor="middle" font-size="18.5" font-family='"Liberation Serif", serif' fill="#222" stroke="#222" stroke-width="0.3">PSD</text>
<path d="M791.7,1018.4 L815.9,1017.3 L839.7,1017.7 L860.8,1012.3 L884.6,1023.2 L907.7,1013.2 L931,1003.2 L954.1,1015.7 L976.8,1019.1 L1000.1,1019.1 L1023.4,911.4 L1047.1,1021.8 L1070.1,1023.3 L1093.1,1021.1 L1116.1,1022.6 L1139.1,1024.4 L1162.1,1023.7 L1185.1,1023.7 L1208.1,1023.7 L1231.1,1022.2 L1254,1022.2 L1282.3,1021.8" fill="none" stroke="#1f1f1f" stroke-width="1.9" stroke-linejoin="round"/>
<text transform="translate(966.7,899.4) scale(1,1.12)" x="0" y="0" font-size="16.8" font-style="italic" font-weight="bold" font-family='"Liberation Serif", serif' fill="#3535f0" textLength="68.5" lengthAdjust="spacingAndGlyphs">A/D=0. 5</text>
<text transform="translate(1045.2,899.4) scale(1,1.12)" x="0" y="0" font-size="17" font-style="italic" font-weight="bold" font-family='"Liberation Serif", serif' fill="#3535f0">f</text>
<text transform="translate(1052.7,904.4) scale(1,1.12)" x="0" y="0" font-size="12" font-style="italic" font-weight="normal" font-family='"Liberation Serif", serif' fill="#5a5af5">e</text>
<text transform="translate(1057.7,899.4) scale(1,1.12)" x="0" y="0" font-size="17" font-style="italic" font-weight="normal" font-family='"Liberation Serif", serif' fill="#3535f0" textLength="10.5" lengthAdjust="spacingAndGlyphs">/</text>
<text transform="translate(1069.7,899.4) scale(1,1.12)" x="0" y="0" font-size="17" font-style="italic" font-weight="bold" font-family='"Liberation Serif", serif' fill="#3535f0">f</text>
<text transform="translate(1078.1,904.4) scale(1,1.12)" x="0" y="0" font-size="12" font-style="italic" font-weight="normal" font-family='"Liberation Serif", serif' fill="#5a5af5">s</text>
<text transform="translate(1085.6,899.4) scale(1,1.12)" x="0" y="0" font-size="16.5" font-style="italic" font-weight="bold" font-family='"Liberation Serif", serif' fill="#3535f0" textLength="45.8" lengthAdjust="spacingAndGlyphs">=1. 05</text>
<text stroke="#ff3030" stroke-width="0.3" x="915.6" y="926.7" font-size="18" font-style="italic" font-weight="normal" font-family='"Liberation Serif", serif' fill="#ff3030" textLength="99.7" lengthAdjust="spacingAndGlyphs"><tspan>f</tspan><tspan font-size="12.96" dy="5.04">e</tspan><tspan dy="-5.04">=0.09446</tspan></text>
<rect x="73.4" y="1136" width="1232.6" height="262.2" fill="none" stroke="#2b2724" stroke-width="2.8"/>
<text x="62.3" y="1178.3" font-size="42" font-family='"Liberation Serif", serif' fill="#1c1a18" text-anchor="end" stroke="#1c1a18" stroke-width="0.35">(e)</text>
<path d="M139.4,1156 V1332 H638.6" fill="none" stroke="#2b2b2b" stroke-width="1.7"/>
<path d="M135.8,1332 H139.4 M132.8,1314.4 H139.4 M135.8,1296.8 H139.4 M132.8,1279.2 H139.4 M135.8,1261.6 H139.4 M132.8,1244 H139.4 M135.8,1226.4 H139.4 M132.8,1208.8 H139.4 M135.8,1191.2 H139.4 M132.8,1173.6 H139.4 M135.8,1156 H139.4 M139.4,1332 V1338.6 M167.13,1332 V1335.3 M194.87,1332 V1338.6 M222.6,1332 V1335.3 M250.33,1332 V1338.6 M278.07,1332 V1335.3 M305.8,1332 V1338.6 M333.53,1332 V1335.3 M361.27,1332 V1338.6 M389,1332 V1335.3 M416.73,1332 V1338.6 M444.47,1332 V1335.3 M472.2,1332 V1338.6 M499.93,1332 V1335.3 M527.67,1332 V1338.6 M555.4,1332 V1335.3 M583.13,1332 V1338.6 M610.87,1332 V1335.3 M638.6,1332 V1338.6" fill="none" stroke="#2b2b2b" stroke-width="1.7"/>
<text x="127.6" y="1320.3" text-anchor="end" font-size="15" font-family='"Liberation Serif", serif' fill="#444444"><tspan fill="#b5b5b5">&#8722;</tspan>4</text>
<text x="127.6" y="1285.1" text-anchor="end" font-size="15" font-family='"Liberation Serif", serif' fill="#444444"><tspan fill="#b5b5b5">&#8722;</tspan>2</text>
<text x="127.6" y="1249.9" font-size="15" font-family='"Liberation Serif", serif' fill="#444444" text-anchor="end">0</text>
<text x="127.6" y="1214.7" font-size="15" font-family='"Liberation Serif", serif' fill="#444444" text-anchor="end">2</text>
<text x="127.6" y="1179.5" font-size="15" font-family='"Liberation Serif", serif' fill="#444444" text-anchor="end">4</text>
<text x="139.4" y="1357.1" font-size="15" font-family='"Liberation Serif", serif' fill="#444444" text-anchor="middle">0</text>
<text x="194.87" y="1357.1" font-size="15" font-family='"Liberation Serif", serif' fill="#444444" text-anchor="middle">10</text>
<text x="250.33" y="1357.1" font-size="15" font-family='"Liberation Serif", serif' fill="#444444" text-anchor="middle">20</text>
<text x="305.8" y="1357.1" font-size="15" font-family='"Liberation Serif", serif' fill="#444444" text-anchor="middle">30</text>
<text x="361.27" y="1357.1" font-size="15" font-family='"Liberation Serif", serif' fill="#444444" text-anchor="middle">40</text>
<text x="416.73" y="1357.1" font-size="15" font-family='"Liberation Serif", serif' fill="#444444" text-anchor="middle">50</text>
<text x="472.2" y="1357.1" font-size="15" font-family='"Liberation Serif", serif' fill="#444444" text-anchor="middle">60</text>
<text x="527.67" y="1357.1" font-size="15" font-family='"Liberation Serif", serif' fill="#444444" text-anchor="middle">70</text>
<text x="583.13" y="1357.1" font-size="15" font-family='"Liberation Serif", serif' fill="#444444" text-anchor="middle">80</text>
<text x="638.6" y="1357.1" font-size="15" font-family='"Liberation Serif", serif' fill="#444444" text-anchor="middle">90</text>
<text transform="translate(106,1265.9) rotate(-90)" x="0" y="0" font-size="19" font-style="italic" font-family='"Liberation Serif", serif' fill="#4a4a4a" textLength="49" lengthAdjust="spacingAndGlyphs">C1&#160;&#160;Cd</text>
<text x="386.5" y="1383.2" font-size="27" font-family='"Liberation Serif", serif' fill="#3a3a3a" font-style="italic">t</text>
<path d="M139.7,1193 V1245" stroke="#c06040" stroke-width="1.2" opacity="0.8"/>
<path d="M139.8,1237.6 C141.07,1237.47 142.33,1237.59 143.6,1236.9 C146.1,1235.54 148.6,1228.93 151.1,1226.3 C152.37,1224.97 153.63,1226.06 154.9,1222.5 C156.67,1217.54 158.43,1202.08 160.2,1195.3 C163.13,1184.05 166.07,1168.4 169,1168.4 C171.1,1168.4 173.2,1177.08 175.3,1184.7 C177.33,1192.08 179.37,1206.41 181.4,1213.4 C183.4,1220.28 185.4,1226.3 187.4,1226.3 C189.93,1226.3 192.47,1219.5 195,1219.5 C198,1219.5 201,1221 204,1221 C208.53,1221 213.07,1205.9 217.6,1205.9 C222.13,1205.9 226.67,1224.8 231.2,1224.8 C235.73,1224.8 240.27,1190 244.8,1190 C249.07,1190 253.33,1218 257.6,1218 C262.13,1218 266.67,1177.6 271.2,1177.6 C275.5,1177.6 279.8,1219.5 284.1,1219.5 C287.37,1219.5 290.63,1198 293.9,1198 C299.43,1198 304.97,1227.8 310.5,1227.8 C314.17,1227.8 317.83,1204.3 321.5,1204.3 C325.5,1204.3 329.5,1225.1 333.5,1225.1 C338.33,1225.1 343.17,1194.9 348,1194.9 C352.37,1194.9 356.73,1216.1 361.1,1216.1 C365.47,1216.1 369.83,1194.3 374.2,1194.3 C378.47,1194.3 382.73,1218.1 387,1218.1 C390.7,1218.1 394.4,1191.7 398.1,1191.7 C402.97,1191.7 407.83,1224.2 412.7,1224.2 C415.7,1224.2 418.7,1211.6 421.7,1211.6 C425.9,1211.6 430.1,1232.2 434.3,1232.2 C439.53,1232.2 444.77,1193.7 450,1193.7 C454.53,1193.7 459.07,1224.2 463.6,1224.2 C467.97,1224.2 472.33,1179.8 476.7,1179.8 C479.27,1179.8 481.83,1200.66 484.4,1207.8 C486.27,1212.99 488.13,1216.8 490,1216.8 C494.3,1216.8 498.6,1182.7 502.9,1182.7 C507.17,1182.7 511.43,1221.6 515.7,1221.6 C518.57,1221.6 521.43,1203.9 524.3,1203.9 C529.23,1203.9 534.17,1219.3 539.1,1219.3 C543.7,1219.3 548.3,1209.1 552.9,1209.1 C554.7,1209.1 556.5,1210.67 558.3,1212.3 C560.67,1214.44 563.03,1220.4 565.4,1220.4 C569.8,1220.4 574.2,1198.5 578.6,1198.5 C583.2,1198.5 587.8,1223.2 592.4,1223.2 C596.67,1223.2 600.93,1189.2 605.2,1189.2 C609.27,1189.2 613.33,1220 617.4,1220 C621.6,1220 625.8,1188.5 630,1188.5 C632.87,1188.5 635.73,1204.77 638.6,1212.9" fill="none" stroke="#f44848" stroke-width="1.85" stroke-linejoin="round"/>
<path d="M139.8,1246.7 C141.07,1240.63 142.33,1231.92 143.6,1228.5 C146.53,1220.58 149.47,1212.7 152.4,1212.7 C154.5,1212.7 156.6,1214.58 158.7,1222.5 C161.73,1233.94 164.77,1256.54 167.8,1270.8 C169.8,1280.2 171.8,1287 173.8,1293.5 C176.07,1300.87 178.33,1312.4 180.6,1312.4 C182.87,1312.4 185.13,1307.18 187.4,1293.5 C189.93,1278.21 192.47,1239.43 195,1225.5 C198.4,1206.8 201.8,1195.6 205.2,1195.6 C207.33,1195.6 209.47,1195.6 211.6,1204.4 C214.1,1214.71 216.6,1242.42 219.1,1255.7 C222.27,1272.52 225.43,1294.7 228.6,1294.7 C230.97,1294.7 233.33,1290.72 235.7,1278.4 C238.73,1262.62 241.77,1226.13 244.8,1210.4 C247.83,1194.67 250.87,1184 253.9,1184 C256.4,1184 258.9,1187.93 261.4,1199.8 C263.93,1211.83 266.47,1240.94 269,1255.7 C273.17,1279.97 277.33,1316.9 281.5,1316.9 C284.37,1316.9 287.23,1309.67 290.1,1293.5 C292.63,1279.21 295.17,1240.09 297.7,1225.5 C301.3,1204.76 304.9,1187.5 308.5,1187.5 C311.43,1187.5 314.37,1194.6 317.3,1207.4 C320.33,1220.63 323.37,1250.57 326.4,1265.6 C328.53,1276.17 330.67,1284.2 332.8,1284.2 C334.97,1284.2 337.13,1281.61 339.3,1272 C341.43,1262.54 343.57,1240.1 345.7,1227 C347.4,1216.56 349.1,1206.9 350.8,1201.4 C353.03,1194.17 355.27,1188.8 357.5,1188.8 C359.57,1188.8 361.63,1190.42 363.7,1198.8 C365.83,1207.45 367.97,1225.57 370.1,1239.9 C372.23,1254.23 374.37,1273.5 376.5,1284.8 C378.63,1296.1 380.77,1307.7 382.9,1307.7 C385.03,1307.7 387.17,1305.74 389.3,1297.7 C391.47,1289.54 393.63,1275.27 395.8,1259.1 C397.93,1243.17 400.07,1213.65 402.2,1201.4 C404.83,1186.28 407.47,1177 410.1,1177 C412.6,1177 415.1,1181.12 417.6,1188.5 C419.3,1193.52 421,1202.55 422.7,1214.2 C424.43,1226.08 426.17,1249.18 427.9,1259.1 C430.17,1272.08 432.43,1282.9 434.7,1282.9 C437.13,1282.9 439.57,1275.53 442,1265.6 C444.13,1256.9 446.27,1239.39 448.4,1227 C450.1,1217.13 451.8,1205.6 453.5,1198.8 C455.43,1191.07 457.37,1183.4 459.3,1183.4 C461.67,1183.4 464.03,1185 466.4,1194.9 C468.53,1203.83 470.67,1223.85 472.8,1239.9 C474.93,1255.95 477.07,1279.14 479.2,1291.2 C481.27,1302.88 483.33,1311.1 485.4,1311.1 C487.87,1311.1 490.33,1303.84 492.8,1291.2 C494.97,1280.1 497.13,1256.07 499.3,1239.9 C501.43,1223.97 503.57,1204.59 505.7,1194.9 C508.17,1183.69 510.63,1177.2 513.1,1177.2 C515.33,1177.2 517.57,1181.71 519.8,1192.4 C521.93,1202.61 524.07,1225.57 526.2,1239.9 C528.33,1254.23 530.47,1269.1 532.6,1278.4 C534.83,1288.13 537.07,1297 539.3,1297 C541.8,1297 544.3,1291.27 546.8,1281 C548.93,1272.24 551.07,1253.48 553.2,1239.9 C554.9,1229.08 556.6,1214.12 558.3,1207.8 C560.23,1200.62 562.17,1199.4 564.1,1199.4 C566.03,1199.4 567.97,1201.38 569.9,1207.8 C572.03,1214.88 574.17,1228.13 576.3,1239.9 C578.43,1251.67 580.57,1267.73 582.7,1278.4 C584.63,1288.07 586.57,1300.9 588.5,1300.9 C590.87,1300.9 593.23,1295.49 595.6,1284.8 C597.73,1275.16 599.87,1254.88 602,1239.9 C604.13,1224.92 606.27,1205.45 608.4,1194.9 C610.47,1184.68 612.53,1177.6 614.6,1177.6 C616.8,1177.6 619,1181.94 621.2,1192.4 C623.37,1202.7 625.53,1225.19 627.7,1239.9 C631.33,1264.56 634.97,1286.97 638.6,1310.5" fill="none" stroke="#585858" stroke-width="1.9" stroke-linejoin="round"/>
<path d="M308.5,1162.2 H346.5" stroke="#707070" stroke-width="2"/>
<text x="355.5" y="1168.7" font-size="19.5" font-family='"Liberation Serif", serif' fill="#3a3a3a" textLength="16.5" lengthAdjust="spacingAndGlyphs">C1</text>
<path d="M398.6,1162.2 H421.5" stroke="#f25050" stroke-width="2"/>
<text x="430.7" y="1168.7" font-size="19.5" font-family='"Liberation Serif", serif' fill="#3a3a3a" textLength="17.8" lengthAdjust="spacingAndGlyphs">Cd</text>
<text x="386.6" y="1170.2" font-size="26" font-family='"Liberation Serif", serif' fill="#444" font-style="italic">t</text>
<text transform="translate(489,1168.4) scale(1,1.12)" x="0" y="0" font-size="16.8" font-style="italic" font-weight="bold" font-family='"Liberation Serif", serif' fill="#3535f0" textLength="68.5" lengthAdjust="spacingAndGlyphs">A/D=0. 5</text>
<text transform="translate(567.5,1168.4) scale(1,1.12)" x="0" y="0" font-size="17" font-style="italic" font-weight="bold" font-family='"Liberation Serif", serif' fill="#3535f0">f</text>
<text transform="translate(575,1173.4) scale(1,1.12)" x="0" y="0" font-size="12" font-style="italic" font-weight="normal" font-family='"Liberation Serif", serif' fill="#5a5af5">e</text>
<text transform="translate(580,1168.4) scale(1,1.12)" x="0" y="0" font-size="17" font-style="italic" font-weight="normal" font-family='"Liberation Serif", serif' fill="#3535f0" textLength="10.5" lengthAdjust="spacingAndGlyphs">/</text>
<text transform="translate(592,1168.4) scale(1,1.12)" x="0" y="0" font-size="17" font-style="italic" font-weight="bold" font-family='"Liberation Serif", serif' fill="#3535f0">f</text>
<text transform="translate(600.4,1173.4) scale(1,1.12)" x="0" y="0" font-size="12" font-style="italic" font-weight="normal" font-family='"Liberation Serif", serif' fill="#5a5af5">s</text>
<text transform="translate(607.9,1168.4) scale(1,1.12)" x="0" y="0" font-size="16.5" font-style="italic" font-weight="bold" font-family='"Liberation Serif", serif' fill="#3535f0" textLength="37.6" lengthAdjust="spacingAndGlyphs">=1. 2</text>
<rect x="791.8" y="1154.1" width="490.5" height="172.2" fill="none" stroke="#979797" stroke-width="1.5"/>
<path d="M785.3,1305.5 H791.8 M1275.8,1305.5 H1282.3 M788.2,1283.85 H791.8 M1278.7,1283.85 H1282.3 M785.3,1262.2 H791.8 M1275.8,1262.2 H1282.3 M788.2,1240.55 H791.8 M1278.7,1240.55 H1282.3 M785.3,1218.9 H791.8 M1275.8,1218.9 H1282.3 M788.2,1197.25 H791.8 M1278.7,1197.25 H1282.3 M785.3,1175.6 H791.8 M1275.8,1175.6 H1282.3 M788.2,1153.95 H791.8 M1278.7,1153.95 H1282.3 M791.8,1326.3 V1332.8 M791.8,1154.1 V1160.6 M816.32,1326.3 V1329.6 M816.32,1154.1 V1157.4 M840.85,1326.3 V1332.8 M840.85,1154.1 V1160.6 M865.38,1326.3 V1329.6 M865.38,1154.1 V1157.4 M889.9,1326.3 V1332.8 M889.9,1154.1 V1160.6 M914.42,1326.3 V1329.6 M914.42,1154.1 V1157.4 M938.95,1326.3 V1332.8 M938.95,1154.1 V1160.6 M963.47,1326.3 V1329.6 M963.47,1154.1 V1157.4 M988,1326.3 V1332.8 M988,1154.1 V1160.6 M1012.52,1326.3 V1329.6 M1012.52,1154.1 V1157.4 M1037.05,1326.3 V1332.8 M1037.05,1154.1 V1160.6 M1061.57,1326.3 V1329.6 M1061.57,1154.1 V1157.4 M1086.1,1326.3 V1332.8 M1086.1,1154.1 V1160.6 M1110.62,1326.3 V1329.6 M1110.62,1154.1 V1157.4 M1135.15,1326.3 V1332.8 M1135.15,1154.1 V1160.6 M1159.67,1326.3 V1329.6 M1159.67,1154.1 V1157.4 M1184.2,1326.3 V1332.8 M1184.2,1154.1 V1160.6 M1208.72,1326.3 V1329.6 M1208.72,1154.1 V1157.4 M1233.25,1326.3 V1332.8 M1233.25,1154.1 V1160.6 M1257.78,1326.3 V1329.6 M1257.78,1154.1 V1157.4 M1282.3,1326.3 V1332.8 M1282.3,1154.1 V1160.6" fill="none" stroke="#979797" stroke-width="1.5"/>
<text x="779.2" y="1310.5" font-size="15" font-family='"Liberation Serif", serif' fill="#444444" text-anchor="end">0. 0</text>
<text x="779.2" y="1267.2" font-size="15" font-family='"Liberation Serif", serif' fill="#444444" text-anchor="end">1. 2</text>
<text x="779.2" y="1223.9" font-size="15" font-family='"Liberation Serif", serif' fill="#444444" text-anchor="end">2. 4</text>
<text x="779.2" y="1180.6" font-size="15" font-family='"Liberation Serif", serif' fill="#444444" text-anchor="end">3. 6</text>
<text x="791.8" y="1351.3" font-size="15" font-family='"Liberation Serif", serif' fill="#444444" text-anchor="middle">0. 00</text>
<text x="840.85" y="1351.3" font-size="15" font-family='"Liberation Serif", serif' fill="#444444" text-anchor="middle">0. 02</text>
<text x="889.9" y="1351.3" font-size="15" font-family='"Liberation Serif", serif' fill="#444444" text-anchor="middle">0. 04</text>
<text x="938.95" y="1351.3" font-size="15" font-family='"Liberation Serif", serif' fill="#444444" text-anchor="middle">0. 06</text>
<text x="988" y="1351.3" font-size="15" font-family='"Liberation Serif", serif' fill="#444444" text-anchor="middle">0. 08</text>
<text x="1037.05" y="1351.3" font-size="15" font-family='"Liberation Serif", serif' fill="#444444" text-anchor="middle">0. 10</text>
<text x="1086.1" y="1351.3" font-size="15" font-family='"Liberation Serif", serif' fill="#444444" text-anchor="middle">0. 12</text>
<text x="1135.15" y="1351.3" font-size="15" font-family='"Liberation Serif", serif' fill="#444444" text-anchor="middle">0. 14</text>
<text x="1184.2" y="1351.3" font-size="15" font-family='"Liberation Serif", serif' fill="#444444" text-anchor="middle">0. 16</text>
<text x="1233.25" y="1351.3" font-size="15" font-family='"Liberation Serif", serif' fill="#444444" text-anchor="middle">0. 18</text>
<text x="1282.3" y="1351.3" font-size="15" font-family='"Liberation Serif", serif' fill="#444444" text-anchor="middle">0. 20</text>
<text x="987.8" y="1375.1" font-size="19" font-family='"Liberation Serif", serif' fill="#262626" textLength="113" lengthAdjust="spacingAndGlyphs" stroke="#262626" stroke-width="0.3">Frequency/Hz</text>
<text transform="translate(745.4,1239) rotate(-90)" x="0" y="0" text-anchor="middle" font-size="18.5" font-family='"Liberation Serif", serif' fill="#222" stroke="#222" stroke-width="0.3">PSD</text>
<path d="M791.7,1302.3 L817.7,1286.6 L844.7,1299.6 L871.4,1293.2 L897.9,1293.2 L924.7,1284.1 L951.2,1287.1 L977.5,1297.7 L1004,1300.7 L1029.9,1300.7 L1056.5,1189 L1082.8,1302.9 L1109.5,1303.3 L1135.8,1304.4 L1162.1,1303.3 L1188.3,1302.6 L1214.6,1302.6 L1240.9,1302.2 L1282.3,1301.8" fill="none" stroke="#1f1f1f" stroke-width="1.9" stroke-linejoin="round"/>
<text transform="translate(966.7,1179) scale(1,1.12)" x="0" y="0" font-size="16.8" font-style="italic" font-weight="bold" font-family='"Liberation Serif", serif' fill="#3535f0" textLength="68.5" lengthAdjust="spacingAndGlyphs">A/D=0. 5</text>
<text transform="translate(1045.2,1179) scale(1,1.12)" x="0" y="0" font-size="17" font-style="italic" font-weight="bold" font-family='"Liberation Serif", serif' fill="#3535f0">f</text>
<text transform="translate(1052.7,1184) scale(1,1.12)" x="0" y="0" font-size="12" font-style="italic" font-weight="normal" font-family='"Liberation Serif", serif' fill="#5a5af5">e</text>
<text transform="translate(1057.7,1179) scale(1,1.12)" x="0" y="0" font-size="17" font-style="italic" font-weight="normal" font-family='"Liberation Serif", serif' fill="#3535f0" textLength="10.5" lengthAdjust="spacingAndGlyphs">/</text>
<text transform="translate(1069.7,1179) scale(1,1.12)" x="0" y="0" font-size="17" font-style="italic" font-weight="bold" font-family='"Liberation Serif", serif' fill="#3535f0">f</text>
<text transform="translate(1078.1,1184) scale(1,1.12)" x="0" y="0" font-size="12" font-style="italic" font-weight="normal" font-family='"Liberation Serif", serif' fill="#5a5af5">s</text>
<text transform="translate(1085.6,1179) scale(1,1.12)" x="0" y="0" font-size="16.5" font-style="italic" font-weight="bold" font-family='"Liberation Serif", serif' fill="#3535f0" textLength="37" lengthAdjust="spacingAndGlyphs">=1. 2</text>
<text stroke="#ff3030" stroke-width="0.3" x="957.5" y="1204.4" font-size="18" font-style="italic" font-weight="normal" font-family='"Liberation Serif", serif' fill="#ff3030" textLength="91.8" lengthAdjust="spacingAndGlyphs"><tspan>f</tspan><tspan font-size="12.96" dy="5.04">e</tspan><tspan dy="-5.04">=0.10794</tspan></text>
<rect x="73.4" y="1415.2" width="1232.6" height="262.2" fill="none" stroke="#2b2724" stroke-width="2.8"/>
<text x="62.3" y="1457.5" font-size="42" font-family='"Liberation Serif", serif' fill="#1c1a18" text-anchor="end" stroke="#1c1a18" stroke-width="0.35">(f)</text>
<path d="M139.4,1435.6 V1610.8 H638.6" fill="none" stroke="#2b2b2b" stroke-width="1.7"/>
<path d="M132.8,1610.8 H139.4 M135.8,1596.2 H139.4 M132.8,1581.6 H139.4 M135.8,1567 H139.4 M132.8,1552.4 H139.4 M135.8,1537.8 H139.4 M132.8,1523.2 H139.4 M135.8,1508.6 H139.4 M132.8,1494 H139.4 M135.8,1479.4 H139.4 M132.8,1464.8 H139.4 M135.8,1450.2 H139.4 M132.8,1435.6 H139.4 M139.4,1610.8 V1617.4 M170.6,1610.8 V1614.1 M201.8,1610.8 V1617.4 M233,1610.8 V1614.1 M264.2,1610.8 V1617.4 M295.4,1610.8 V1614.1 M326.6,1610.8 V1617.4 M357.8,1610.8 V1614.1 M389,1610.8 V1617.4 M420.2,1610.8 V1614.1 M451.4,1610.8 V1617.4 M482.6,1610.8 V1614.1 M513.8,1610.8 V1617.4 M545,1610.8 V1614.1 M576.2,1610.8 V1617.4 M607.4,1610.8 V1614.1 M638.6,1610.8 V1617.4" fill="none" stroke="#2b2b2b" stroke-width="1.7"/>
<text x="127.6" y="1616.7" text-anchor="end" font-size="15" font-family='"Liberation Serif", serif' fill="#444444"><tspan fill="#b5b5b5">&#8722;</tspan>6</text>
<text x="127.6" y="1587.5" text-anchor="end" font-size="15" font-family='"Liberation Serif", serif' fill="#444444"><tspan fill="#b5b5b5">&#8722;</tspan>4</text>
<text x="127.6" y="1558.3" text-anchor="end" font-size="15" font-family='"Liberation Serif", serif' fill="#444444"><tspan fill="#b5b5b5">&#8722;</tspan>2</text>
<text x="127.6" y="1529.1" font-size="15" font-family='"Liberation Serif", serif' fill="#444444" text-anchor="end">0</text>
<text x="127.6" y="1499.9" font-size="15" font-family='"Liberation Serif", serif' fill="#444444" text-anchor="end">2</text>
<text x="127.6" y="1470.7" font-size="15" font-family='"Liberation Serif", serif' fill="#444444" text-anchor="end">4</text>
<text x="127.6" y="1441.5" font-size="15" font-family='"Liberation Serif", serif' fill="#444444" text-anchor="end">6</text>
<text x="139.4" y="1635.9" font-size="15" font-family='"Liberation Serif", serif' fill="#444444" text-anchor="middle">0</text>
<text x="201.8" y="1635.9" font-size="15" font-family='"Liberation Serif", serif' fill="#444444" text-anchor="middle">10</text>
<text x="264.2" y="1635.9" font-size="15" font-family='"Liberation Serif", serif' fill="#444444" text-anchor="middle">20</text>
<text x="326.6" y="1635.9" font-size="15" font-family='"Liberation Serif", serif' fill="#444444" text-anchor="middle">30</text>
<text x="389" y="1635.9" font-size="15" font-family='"Liberation Serif", serif' fill="#444444" text-anchor="middle">40</text>
<text x="451.4" y="1635.9" font-size="15" font-family='"Liberation Serif", serif' fill="#444444" text-anchor="middle">50</text>
<text x="513.8" y="1635.9" font-size="15" font-family='"Liberation Serif", serif' fill="#444444" text-anchor="middle">60</text>
<text x="576.2" y="1635.9" font-size="15" font-family='"Liberation Serif", serif' fill="#444444" text-anchor="middle">70</text>
<text x="638.6" y="1635.9" font-size="15" font-family='"Liberation Serif", serif' fill="#444444" text-anchor="middle">80</text>
<text transform="translate(106,1545.1) rotate(-90)" x="0" y="0" font-size="19" font-style="italic" font-family='"Liberation Serif", serif' fill="#4a4a4a" textLength="49" lengthAdjust="spacingAndGlyphs">C1&#160;&#160;Cd</text>
<text x="386.5" y="1662.4" font-size="27" font-family='"Liberation Serif", serif' fill="#3a3a3a" font-style="italic">t</text>
<path d="M139.7,1478 V1525" stroke="#c06040" stroke-width="1.2" opacity="0.8"/>
<path d="M139.8,1506.3 C140.8,1509.97 141.8,1517.3 142.8,1517.3 C145.07,1517.3 147.33,1513.58 149.6,1511.6 C151.63,1509.82 153.67,1511.33 155.7,1505.5 C157.7,1499.76 159.7,1482.67 161.7,1475.3 C164.23,1465.97 166.77,1455.4 169.3,1455.4 C171.3,1455.4 173.3,1462.39 175.3,1469.3 C178.07,1478.86 180.83,1504.8 183.6,1504.8 C186.63,1504.8 189.67,1496.5 192.7,1496.5 C197.23,1496.5 201.77,1507.8 206.3,1507.8 C210.57,1507.8 214.83,1484.1 219.1,1484.1 C223.53,1484.1 227.97,1508.5 232.4,1508.5 C236.93,1508.5 241.47,1468.5 246,1468.5 C250.13,1468.5 254.27,1504.8 258.4,1504.8 C262.53,1504.8 266.67,1458.2 270.8,1458.2 C273.7,1458.2 276.6,1477.58 279.5,1487.4 C282.3,1496.88 285.1,1516.1 287.9,1516.1 C291.4,1516.1 294.9,1490.4 298.4,1490.4 C302.3,1490.4 306.2,1507.3 310.1,1507.3 C314,1507.3 317.9,1491.2 321.8,1491.2 C325.27,1491.2 328.73,1501.3 332.2,1501.3 C337.47,1501.3 342.73,1469.2 348,1469.2 C351.93,1469.2 355.87,1489.3 359.8,1489.3 C362.37,1489.3 364.93,1476.9 367.5,1476.9 C369.2,1476.9 370.9,1476.9 372.6,1478.2 C376.27,1481 379.93,1494.2 383.6,1494.2 C385.93,1494.2 388.27,1484.6 390.6,1484.6 C394.47,1484.6 398.33,1508.1 402.2,1508.1 C406.7,1508.1 411.2,1483.9 415.7,1483.9 C418.9,1483.9 422.1,1493.6 425.3,1493.6 C427,1493.6 428.7,1493.6 430.4,1492.9 C433.2,1491.75 436,1482.4 438.8,1482.4 C442,1482.4 445.2,1486.33 448.4,1489.7 C450.77,1492.19 453.13,1500 455.5,1500 C457.4,1500 459.3,1492.91 461.2,1487.8 C463.37,1481.97 465.53,1467.2 467.7,1467.2 C472.17,1467.2 476.63,1501.9 481.1,1501.9 C482.87,1501.9 484.63,1488.16 486.4,1483.9 C488.53,1478.76 490.67,1473.7 492.8,1473.7 C494.53,1473.7 496.27,1477.46 498,1479.4 C499.7,1481.3 501.4,1483.2 503.1,1485.2 C505.23,1487.7 507.37,1492.9 509.5,1492.9 C511.87,1492.9 514.23,1480.1 516.6,1480.1 C518.53,1480.1 520.47,1495.5 522.4,1495.5 C525.4,1495.5 528.4,1495.5 531.4,1494.8 C534.6,1494.05 537.8,1487.1 541,1487.1 C543.57,1487.1 546.13,1502.5 548.7,1502.5 C551.47,1502.5 554.23,1499.89 557,1497.4 C559.93,1494.76 562.87,1487.1 565.8,1487.1 C568.87,1487.1 571.93,1496.8 575,1496.8 C578,1496.8 581,1496.8 584,1496.1 C587.33,1495.32 590.67,1477.5 594,1477.5 C598.8,1477.5 603.6,1503.2 608.4,1503.2 C613.47,1503.2 618.53,1459.8 623.6,1459.8 C627.73,1459.8 631.87,1491.6 636,1491.6 C636.87,1491.6 637.73,1489.07 638.6,1487.8" fill="none" stroke="#f44848" stroke-width="1.85" stroke-linejoin="round"/>
<path d="M139.8,1523.7 C141.07,1517.63 142.33,1508.99 143.6,1505.5 C146.63,1497.15 149.67,1488.2 152.7,1488.2 C154.7,1488.2 156.7,1488.4 158.7,1496.5 C161.23,1506.76 163.77,1530.38 166.3,1543.3 C168.8,1556.05 171.3,1565.36 173.8,1573.5 C175.97,1580.56 178.13,1588.9 180.3,1588.9 C182.67,1588.9 185.03,1583.93 187.4,1570.5 C189.93,1556.13 192.47,1519.65 195,1505.5 C198.17,1487.81 201.33,1475 204.5,1475 C206.87,1475 209.23,1475 211.6,1484.4 C214.1,1494.33 216.6,1523.08 219.1,1535.7 C222.63,1553.54 226.17,1575.8 229.7,1575.8 C232.23,1575.8 234.77,1571.43 237.3,1558.4 C240.3,1542.97 243.3,1507.46 246.3,1490.4 C249.23,1473.72 252.17,1457.2 255.1,1457.2 C257.7,1457.2 260.3,1462.05 262.9,1475.3 C265.43,1488.21 267.97,1522.51 270.5,1535.7 C274.93,1558.78 279.37,1584.1 283.8,1584.1 C286.4,1584.1 289,1579.27 291.6,1566 C294.13,1553.07 296.67,1517.21 299.2,1505.5 C302.47,1490.41 305.73,1485.6 309,1485.6 C311.77,1485.6 314.53,1488.46 317.3,1498 C320.33,1508.46 323.37,1532.65 326.4,1545.6 C328.2,1553.28 330,1559.9 331.8,1559.9 C333.87,1559.9 335.93,1559.61 338,1552 C340.13,1544.14 342.27,1525.7 344.4,1513.5 C346.53,1501.3 348.67,1486.03 350.8,1478.8 C352.87,1471.8 354.93,1470.8 357,1470.8 C359.23,1470.8 361.47,1471.52 363.7,1478.8 C365.83,1485.75 367.97,1501.3 370.1,1513.5 C372.23,1525.7 374.37,1542.97 376.5,1552 C379.07,1562.87 381.63,1573.2 384.2,1573.2 C386.33,1573.2 388.47,1573.2 390.6,1567.4 C392.73,1561.6 394.87,1544.38 397,1532.7 C399.17,1520.84 401.33,1503.98 403.5,1496.8 C406.13,1488.08 408.77,1485 411.4,1485 C413.47,1485 415.53,1485 417.6,1491.6 C419.73,1498.41 421.87,1527.53 424,1539.1 C426.13,1550.67 428.27,1556.43 430.4,1561 C432.77,1566.07 435.13,1568 437.5,1568 C439.43,1568 441.37,1563.42 443.3,1555.8 C445.43,1547.39 447.57,1529.73 449.7,1519.9 C451.83,1510.07 453.97,1501.92 456.1,1496.8 C457.8,1492.72 459.5,1492.3 461.2,1492.3 C463.37,1492.3 465.53,1492.3 467.7,1492.9 C469.83,1493.49 471.97,1504.93 474.1,1513.5 C476.23,1522.07 478.37,1536.58 480.5,1544.3 C482.03,1549.85 483.57,1551.74 485.1,1553.3 C487.27,1555.51 489.43,1555.6 491.6,1555.6 C492.43,1555.6 493.27,1555.6 494.1,1552 C495.83,1544.51 497.57,1528.54 499.3,1519.9 C501.43,1509.27 503.57,1499.61 505.7,1494.2 C508.47,1487.18 511.23,1482.6 514,1482.6 C515.93,1482.6 517.87,1484.67 519.8,1491.6 C521.93,1499.24 524.07,1515.17 526.2,1526.3 C528.33,1537.43 530.47,1552.27 532.6,1558.4 C535.53,1566.83 538.47,1570 541.4,1570 C543.2,1570 545,1560.62 546.8,1552 C548.93,1541.79 551.07,1523.57 553.2,1513.5 C555.33,1503.43 557.47,1496.61 559.6,1491.6 C561.67,1486.74 563.73,1483.9 565.8,1483.9 C567.6,1483.9 569.4,1487.73 571.2,1494.2 C573.33,1501.87 575.47,1517.73 577.6,1526.3 C579.73,1534.87 581.87,1541.64 584,1545.6 C586.9,1550.98 589.8,1554.3 592.7,1554.3 C594.5,1554.3 596.3,1549.84 598.1,1545.6 C600.27,1540.5 602.43,1531.69 604.6,1526.3 C606.73,1520.99 608.87,1516.46 611,1513.5 C613.33,1510.26 615.67,1507.7 618,1507.7 C619.93,1507.7 621.87,1512.72 623.8,1517.3 C625.93,1522.35 628.07,1532.11 630.2,1536.6 C631.93,1540.25 633.67,1539.33 635.4,1541.7 C636.47,1543.16 637.53,1545.97 638.6,1548.1" fill="none" stroke="#585858" stroke-width="1.9" stroke-linejoin="round"/>
<path d="M308.5,1441.3 H346.5" stroke="#707070" stroke-width="2"/>
<text x="355.5" y="1447.8" font-size="19.5" font-family='"Liberation Serif", serif' fill="#3a3a3a" textLength="16.5" lengthAdjust="spacingAndGlyphs">C1</text>
<path d="M383.6,1441.3 H421.5" stroke="#f25050" stroke-width="2"/>
<text x="430.7" y="1447.8" font-size="19.5" font-family='"Liberation Serif", serif' fill="#3a3a3a" textLength="17.8" lengthAdjust="spacingAndGlyphs">Cd</text>
<text transform="translate(489,1448) scale(1,1.12)" x="0" y="0" font-size="16.8" font-style="italic" font-weight="bold" font-family='"Liberation Serif", serif' fill="#3535f0" textLength="68.5" lengthAdjust="spacingAndGlyphs">A/D=0. 5</text>
<text transform="translate(567.5,1448) scale(1,1.12)" x="0" y="0" font-size="17" font-style="italic" font-weight="bold" font-family='"Liberation Serif", serif' fill="#3535f0">f</text>
<text transform="translate(575,1453) scale(1,1.12)" x="0" y="0" font-size="12" font-style="italic" font-weight="normal" font-family='"Liberation Serif", serif' fill="#5a5af5">e</text>
<text transform="translate(580,1448) scale(1,1.12)" x="0" y="0" font-size="17" font-style="italic" font-weight="normal" font-family='"Liberation Serif", serif' fill="#3535f0" textLength="10.5" lengthAdjust="spacingAndGlyphs">/</text>
<text transform="translate(592,1448) scale(1,1.12)" x="0" y="0" font-size="17" font-style="italic" font-weight="bold" font-family='"Liberation Serif", serif' fill="#3535f0">f</text>
<text transform="translate(600.4,1453) scale(1,1.12)" x="0" y="0" font-size="12" font-style="italic" font-weight="normal" font-family='"Liberation Serif", serif' fill="#5a5af5">s</text>
<text transform="translate(607.9,1448) scale(1,1.12)" x="0" y="0" font-size="16.5" font-style="italic" font-weight="bold" font-family='"Liberation Serif", serif' fill="#3535f0" textLength="46.1" lengthAdjust="spacingAndGlyphs">=1. 35</text>
<rect x="791.8" y="1433.4" width="490.5" height="171.5" fill="none" stroke="#979797" stroke-width="1.5"/>
<path d="M785.3,1583.5 H791.8 M1275.8,1583.5 H1282.3 M788.2,1562.34 H791.8 M1278.7,1562.34 H1282.3 M785.3,1541.17 H791.8 M1275.8,1541.17 H1282.3 M788.2,1520.01 H791.8 M1278.7,1520.01 H1282.3 M785.3,1498.84 H791.8 M1275.8,1498.84 H1282.3 M788.2,1477.67 H791.8 M1278.7,1477.67 H1282.3 M785.3,1456.51 H791.8 M1275.8,1456.51 H1282.3 M788.2,1435.35 H791.8 M1278.7,1435.35 H1282.3 M788.2,1604.66 H791.8 M1278.7,1604.66 H1282.3 M791.8,1604.9 V1611.4 M791.8,1433.4 V1439.9 M816.32,1604.9 V1608.2 M816.32,1433.4 V1436.7 M840.85,1604.9 V1611.4 M840.85,1433.4 V1439.9 M865.38,1604.9 V1608.2 M865.38,1433.4 V1436.7 M889.9,1604.9 V1611.4 M889.9,1433.4 V1439.9 M914.42,1604.9 V1608.2 M914.42,1433.4 V1436.7 M938.95,1604.9 V1611.4 M938.95,1433.4 V1439.9 M963.47,1604.9 V1608.2 M963.47,1433.4 V1436.7 M988,1604.9 V1611.4 M988,1433.4 V1439.9 M1012.52,1604.9 V1608.2 M1012.52,1433.4 V1436.7 M1037.05,1604.9 V1611.4 M1037.05,1433.4 V1439.9 M1061.57,1604.9 V1608.2 M1061.57,1433.4 V1436.7 M1086.1,1604.9 V1611.4 M1086.1,1433.4 V1439.9 M1110.62,1604.9 V1608.2 M1110.62,1433.4 V1436.7 M1135.15,1604.9 V1611.4 M1135.15,1433.4 V1439.9 M1159.67,1604.9 V1608.2 M1159.67,1433.4 V1436.7 M1184.2,1604.9 V1611.4 M1184.2,1433.4 V1439.9 M1208.72,1604.9 V1608.2 M1208.72,1433.4 V1436.7 M1233.25,1604.9 V1611.4 M1233.25,1433.4 V1439.9 M1257.78,1604.9 V1608.2 M1257.78,1433.4 V1436.7 M1282.3,1604.9 V1611.4 M1282.3,1433.4 V1439.9" fill="none" stroke="#979797" stroke-width="1.5"/>
<text x="779.2" y="1588.5" font-size="15" font-family='"Liberation Serif", serif' fill="#444444" text-anchor="end">0. 0</text>
<text x="779.2" y="1546.17" font-size="15" font-family='"Liberation Serif", serif' fill="#444444" text-anchor="end">1. 1</text>
<text x="779.2" y="1503.84" font-size="15" font-family='"Liberation Serif", serif' fill="#444444" text-anchor="end">2. 2</text>
<text x="779.2" y="1461.51" font-size="15" font-family='"Liberation Serif", serif' fill="#444444" text-anchor="end">3. 3</text>
<text x="791.8" y="1629.9" font-size="15" font-family='"Liberation Serif", serif' fill="#444444" text-anchor="middle">0. 00</text>
<text x="840.85" y="1629.9" font-size="15" font-family='"Liberation Serif", serif' fill="#444444" text-anchor="middle">0. 02</text>
<text x="889.9" y="1629.9" font-size="15" font-family='"Liberation Serif", serif' fill="#444444" text-anchor="middle">0. 04</text>
<text x="938.95" y="1629.9" font-size="15" font-family='"Liberation Serif", serif' fill="#444444" text-anchor="middle">0. 06</text>
<text x="988" y="1629.9" font-size="15" font-family='"Liberation Serif", serif' fill="#444444" text-anchor="middle">0. 08</text>
<text x="1037.05" y="1629.9" font-size="15" font-family='"Liberation Serif", serif' fill="#444444" text-anchor="middle">0. 10</text>
<text x="1086.1" y="1629.9" font-size="15" font-family='"Liberation Serif", serif' fill="#444444" text-anchor="middle">0. 12</text>
<text x="1135.15" y="1629.9" font-size="15" font-family='"Liberation Serif", serif' fill="#444444" text-anchor="middle">0. 14</text>
<text x="1184.2" y="1629.9" font-size="15" font-family='"Liberation Serif", serif' fill="#444444" text-anchor="middle">0. 16</text>
<text x="1233.25" y="1629.9" font-size="15" font-family='"Liberation Serif", serif' fill="#444444" text-anchor="middle">0. 18</text>
<text x="1282.3" y="1629.9" font-size="15" font-family='"Liberation Serif", serif' fill="#444444" text-anchor="middle">0. 20</text>
<text x="987.8" y="1653.7" font-size="19" font-family='"Liberation Serif", serif' fill="#262626" textLength="113" lengthAdjust="spacingAndGlyphs" stroke="#262626" stroke-width="0.3">Frequency/Hz</text>
<text transform="translate(745.5,1521.6) rotate(-90)" x="0" y="0" text-anchor="middle" font-size="18.5" font-family='"Liberation Serif", serif' fill="#222" stroke="#222" stroke-width="0.3">PSD</text>
<path d="M791.7,1576.8 L821.6,1573.2 L851,1571.6 L881,1577.3 L911.1,1566.6 L941.7,1572.1 L971.1,1572.1 L1000.6,1571.6 L1030.7,1573.5 L1059.6,1574.5 L1089.8,1469.4 L1119.4,1567.5 L1148.9,1576.3 L1178.5,1574.5 L1208.1,1577.2 L1237.6,1582.2 L1267.2,1578.9 L1282.3,1580" fill="none" stroke="#1f1f1f" stroke-width="1.9" stroke-linejoin="round"/>
<text transform="translate(968.8,1458.3) scale(1,1.12)" x="0" y="0" font-size="16.8" font-style="italic" font-weight="bold" font-family='"Liberation Serif", serif' fill="#3535f0" textLength="68.5" lengthAdjust="spacingAndGlyphs">A/D=0. 5</text>
<text transform="translate(1047.3,1458.3) scale(1,1.12)" x="0" y="0" font-size="17" font-style="italic" font-weight="bold" font-family='"Liberation Serif", serif' fill="#3535f0">f</text>
<text transform="translate(1054.8,1463.3) scale(1,1.12)" x="0" y="0" font-size="12" font-style="italic" font-weight="normal" font-family='"Liberation Serif", serif' fill="#5a5af5">e</text>
<text transform="translate(1059.8,1458.3) scale(1,1.12)" x="0" y="0" font-size="17" font-style="italic" font-weight="normal" font-family='"Liberation Serif", serif' fill="#3535f0" textLength="10.5" lengthAdjust="spacingAndGlyphs">/</text>
<text transform="translate(1071.8,1458.3) scale(1,1.12)" x="0" y="0" font-size="17" font-style="italic" font-weight="bold" font-family='"Liberation Serif", serif' fill="#3535f0">f</text>
<text transform="translate(1080.2,1463.3) scale(1,1.12)" x="0" y="0" font-size="12" font-style="italic" font-weight="normal" font-family='"Liberation Serif", serif' fill="#5a5af5">s</text>
<text transform="translate(1087.7,1458.3) scale(1,1.12)" x="0" y="0" font-size="16.5" font-style="italic" font-weight="bold" font-family='"Liberation Serif", serif' fill="#3535f0" textLength="46.3" lengthAdjust="spacingAndGlyphs">=1. 35</text>
<text stroke="#ff3030" stroke-width="0.3" x="983.1" y="1491" font-size="18" font-style="italic" font-weight="normal" font-family='"Liberation Serif", serif' fill="#ff3030" textLength="97.2" lengthAdjust="spacingAndGlyphs"><tspan>f</tspan><tspan font-size="12.96" dy="5.04">e</tspan><tspan dy="-5.04">=0.12145</tspan></text>
</svg>
</body></html>
